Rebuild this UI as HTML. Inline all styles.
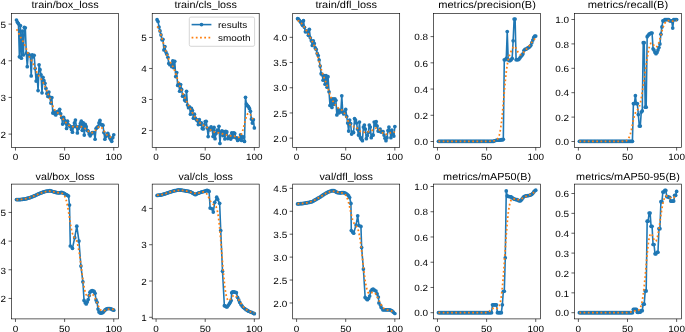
<!DOCTYPE html>
<html><head><meta charset="utf-8"><title>results</title>
<style>
html,body{margin:0;padding:0;background:#fff;}
body{width:685px;height:332px;overflow:hidden;}
svg{display:block;will-change:transform;}
text{font-family:"Liberation Sans",sans-serif;fill:#000000;text-rendering:geometricPrecision;}
.tk text,.lg{font-size:9.0px;}
.ti{font-size:10.2px;}
</style></head>
<body>
<svg width="685" height="332" viewBox="0 0 685 332">
<rect width="685" height="332" fill="#fff"/>
<defs>
<clipPath id="c0"><rect x="11.6" y="13.35" width="107" height="134.15"/></clipPath>
<clipPath id="c1"><rect x="152.2" y="13.35" width="107" height="134.15"/></clipPath>
<clipPath id="c2"><rect x="292.7" y="13.35" width="107" height="134.15"/></clipPath>
<clipPath id="c3"><rect x="433.6" y="13.35" width="107" height="134.15"/></clipPath>
<clipPath id="c4"><rect x="574.5" y="13.35" width="107" height="134.15"/></clipPath>
<clipPath id="c5"><rect x="11.6" y="184.1" width="107" height="134.8"/></clipPath>
<clipPath id="c6"><rect x="152.2" y="184.1" width="107" height="134.8"/></clipPath>
<clipPath id="c7"><rect x="292.7" y="184.1" width="107" height="134.8"/></clipPath>
<clipPath id="c8"><rect x="433.6" y="184.1" width="107" height="134.8"/></clipPath>
<clipPath id="c9"><rect x="574.5" y="184.1" width="107" height="134.8"/></clipPath>
</defs>
<g clip-path="url(#c0)">
<polyline points="16.46,20.01 17.45,22.22 18.43,23.69 19.41,56.78 20.39,25.53 21.38,58.25 22.36,31.04 23.34,54.94 24.32,27.37 25.31,27.73 26.29,53.11 27.27,66.71 28.25,53.84 29.24,54.94 30.22,56.05 31.20,75.90 32.18,54.94 33.17,56.78 34.15,55.31 35.13,68.55 36.11,81.05 37.10,75.17 38.08,90.61 39.06,64.87 40.04,69.65 41.03,74.80 42.01,92.82 42.99,77.37 43.98,80.68 44.96,83.26 45.94,88.41 46.92,93.55 47.91,96.49 48.89,92.08 49.87,97.23 50.85,103.11 51.84,97.60 52.82,113.04 53.80,111.20 54.78,113.78 55.77,114.88 56.75,111.94 57.73,113.04 58.71,111.20 59.70,109.36 60.68,113.78 61.66,117.45 62.64,124.07 63.63,117.45 64.61,120.03 65.59,122.97 66.57,128.48 67.56,121.13 68.54,124.81 69.52,125.91 70.50,126.65 71.49,129.59 72.47,132.16 73.45,126.65 74.43,122.97 75.42,120.03 76.40,126.65 77.38,132.90 78.36,128.48 79.35,126.65 80.33,123.70 81.31,121.13 82.29,130.32 83.28,122.97 84.26,135.10 85.24,124.44 86.22,126.65 87.21,130.32 88.19,131.06 89.17,134.00 90.16,135.84 91.14,134.00 92.12,132.53 93.10,132.53 94.09,132.53 95.07,139.15 96.05,128.48 97.03,127.38 98.02,126.65 99.00,122.97 99.98,120.40 100.96,124.44 101.95,124.81 102.93,125.18 103.91,132.53 104.89,139.15 105.88,136.57 106.86,134.74 107.84,133.26 108.82,135.84 109.81,138.04 110.79,139.52 111.77,141.35 112.75,137.68 113.74,134.74" fill="none" stroke="#1f77b4" stroke-width="1.59" stroke-linejoin="round" stroke-linecap="butt"/>
<g fill="#1f77b4"><circle cx="16.46" cy="20.01" r="1.85"/><circle cx="17.45" cy="22.22" r="1.85"/><circle cx="18.43" cy="23.69" r="1.85"/><circle cx="19.41" cy="56.78" r="1.85"/><circle cx="20.39" cy="25.53" r="1.85"/><circle cx="21.38" cy="58.25" r="1.85"/><circle cx="22.36" cy="31.04" r="1.85"/><circle cx="23.34" cy="54.94" r="1.85"/><circle cx="24.32" cy="27.37" r="1.85"/><circle cx="25.31" cy="27.73" r="1.85"/><circle cx="26.29" cy="53.11" r="1.85"/><circle cx="27.27" cy="66.71" r="1.85"/><circle cx="28.25" cy="53.84" r="1.85"/><circle cx="29.24" cy="54.94" r="1.85"/><circle cx="30.22" cy="56.05" r="1.85"/><circle cx="31.20" cy="75.90" r="1.85"/><circle cx="32.18" cy="54.94" r="1.85"/><circle cx="33.17" cy="56.78" r="1.85"/><circle cx="34.15" cy="55.31" r="1.85"/><circle cx="35.13" cy="68.55" r="1.85"/><circle cx="36.11" cy="81.05" r="1.85"/><circle cx="37.10" cy="75.17" r="1.85"/><circle cx="38.08" cy="90.61" r="1.85"/><circle cx="39.06" cy="64.87" r="1.85"/><circle cx="40.04" cy="69.65" r="1.85"/><circle cx="41.03" cy="74.80" r="1.85"/><circle cx="42.01" cy="92.82" r="1.85"/><circle cx="42.99" cy="77.37" r="1.85"/><circle cx="43.98" cy="80.68" r="1.85"/><circle cx="44.96" cy="83.26" r="1.85"/><circle cx="45.94" cy="88.41" r="1.85"/><circle cx="46.92" cy="93.55" r="1.85"/><circle cx="47.91" cy="96.49" r="1.85"/><circle cx="48.89" cy="92.08" r="1.85"/><circle cx="49.87" cy="97.23" r="1.85"/><circle cx="50.85" cy="103.11" r="1.85"/><circle cx="51.84" cy="97.60" r="1.85"/><circle cx="52.82" cy="113.04" r="1.85"/><circle cx="53.80" cy="111.20" r="1.85"/><circle cx="54.78" cy="113.78" r="1.85"/><circle cx="55.77" cy="114.88" r="1.85"/><circle cx="56.75" cy="111.94" r="1.85"/><circle cx="57.73" cy="113.04" r="1.85"/><circle cx="58.71" cy="111.20" r="1.85"/><circle cx="59.70" cy="109.36" r="1.85"/><circle cx="60.68" cy="113.78" r="1.85"/><circle cx="61.66" cy="117.45" r="1.85"/><circle cx="62.64" cy="124.07" r="1.85"/><circle cx="63.63" cy="117.45" r="1.85"/><circle cx="64.61" cy="120.03" r="1.85"/><circle cx="65.59" cy="122.97" r="1.85"/><circle cx="66.57" cy="128.48" r="1.85"/><circle cx="67.56" cy="121.13" r="1.85"/><circle cx="68.54" cy="124.81" r="1.85"/><circle cx="69.52" cy="125.91" r="1.85"/><circle cx="70.50" cy="126.65" r="1.85"/><circle cx="71.49" cy="129.59" r="1.85"/><circle cx="72.47" cy="132.16" r="1.85"/><circle cx="73.45" cy="126.65" r="1.85"/><circle cx="74.43" cy="122.97" r="1.85"/><circle cx="75.42" cy="120.03" r="1.85"/><circle cx="76.40" cy="126.65" r="1.85"/><circle cx="77.38" cy="132.90" r="1.85"/><circle cx="78.36" cy="128.48" r="1.85"/><circle cx="79.35" cy="126.65" r="1.85"/><circle cx="80.33" cy="123.70" r="1.85"/><circle cx="81.31" cy="121.13" r="1.85"/><circle cx="82.29" cy="130.32" r="1.85"/><circle cx="83.28" cy="122.97" r="1.85"/><circle cx="84.26" cy="135.10" r="1.85"/><circle cx="85.24" cy="124.44" r="1.85"/><circle cx="86.22" cy="126.65" r="1.85"/><circle cx="87.21" cy="130.32" r="1.85"/><circle cx="88.19" cy="131.06" r="1.85"/><circle cx="89.17" cy="134.00" r="1.85"/><circle cx="90.16" cy="135.84" r="1.85"/><circle cx="91.14" cy="134.00" r="1.85"/><circle cx="92.12" cy="132.53" r="1.85"/><circle cx="93.10" cy="132.53" r="1.85"/><circle cx="94.09" cy="132.53" r="1.85"/><circle cx="95.07" cy="139.15" r="1.85"/><circle cx="96.05" cy="128.48" r="1.85"/><circle cx="97.03" cy="127.38" r="1.85"/><circle cx="98.02" cy="126.65" r="1.85"/><circle cx="99.00" cy="122.97" r="1.85"/><circle cx="99.98" cy="120.40" r="1.85"/><circle cx="100.96" cy="124.44" r="1.85"/><circle cx="101.95" cy="124.81" r="1.85"/><circle cx="102.93" cy="125.18" r="1.85"/><circle cx="103.91" cy="132.53" r="1.85"/><circle cx="104.89" cy="139.15" r="1.85"/><circle cx="105.88" cy="136.57" r="1.85"/><circle cx="106.86" cy="134.74" r="1.85"/><circle cx="107.84" cy="133.26" r="1.85"/><circle cx="108.82" cy="135.84" r="1.85"/><circle cx="109.81" cy="138.04" r="1.85"/><circle cx="110.79" cy="139.52" r="1.85"/><circle cx="111.77" cy="141.35" r="1.85"/><circle cx="112.75" cy="137.68" r="1.85"/><circle cx="113.74" cy="134.74" r="1.85"/></g>
<polyline points="16.46,29.45 17.45,30.52 18.43,32.39 19.41,34.64 20.39,36.86 21.38,38.80 22.36,40.47 23.34,42.07 24.32,43.88 25.31,46.06 26.29,48.61 27.27,51.34 28.25,53.99 29.24,56.36 30.22,58.39 31.20,60.18 32.18,61.94 33.17,63.87 34.15,66.03 35.13,68.37 36.11,70.68 37.10,72.77 38.08,74.53 39.06,76.02 40.04,77.38 41.03,78.79 42.01,80.36 42.99,82.13 43.98,84.11 44.96,86.27 45.94,88.57 46.92,90.98 47.91,93.47 48.89,96.02 49.87,98.62 50.85,101.25 51.84,103.82 52.82,106.21 53.80,108.28 54.78,109.94 55.77,111.18 56.75,112.09 57.73,112.84 58.71,113.61 59.70,114.53 60.68,115.67 61.66,116.97 62.64,118.36 63.63,119.74 64.61,121.04 65.59,122.23 66.57,123.29 67.56,124.23 68.54,125.06 69.52,125.75 70.50,126.25 71.49,126.56 72.47,126.66 73.45,126.63 74.43,126.56 75.42,126.50 76.40,126.50 77.38,126.52 78.36,126.53 79.35,126.52 80.33,126.55 81.31,126.67 82.29,126.94 83.28,127.37 84.26,127.94 85.24,128.63 86.22,129.42 87.21,130.27 88.19,131.10 89.17,131.84 90.16,132.40 91.14,132.72 92.12,132.74 93.10,132.44 94.09,131.82 95.07,130.90 96.05,129.76 97.03,128.56 98.02,127.49 99.00,126.77 99.98,126.56 100.96,126.95 101.95,127.90 102.93,129.25 103.91,130.79 104.89,132.31 105.88,133.66 106.86,134.78 107.84,135.67 108.82,136.37 109.81,136.90 110.79,137.27 111.77,137.49 112.75,137.59 113.74,137.63" fill="none" stroke="#ff7f0e" stroke-width="1.75" stroke-dasharray="1.75 2.47" stroke-linecap="butt"/>
</g>
<rect x="11.6" y="13.35" width="107" height="134.15" fill="none" stroke="#000" stroke-width="0.63"/>
<g class="tk"><line x1="15.48" y1="147.50" x2="15.48" y2="150.55" stroke="#000" stroke-width="0.63"/><text x="15.48" y="160.21" text-anchor="middle" textLength="5.53" lengthAdjust="spacingAndGlyphs">0</text><line x1="64.61" y1="147.50" x2="64.61" y2="150.55" stroke="#000" stroke-width="0.63"/><text x="64.61" y="160.21" text-anchor="middle" textLength="11.07" lengthAdjust="spacingAndGlyphs">50</text><line x1="113.74" y1="147.50" x2="113.74" y2="150.55" stroke="#000" stroke-width="0.63"/><text x="113.74" y="160.21" text-anchor="middle" textLength="16.60" lengthAdjust="spacingAndGlyphs">100</text><line x1="11.60" y1="134.10" x2="8.55" y2="134.10" stroke="#000" stroke-width="0.63"/><text x="6.10" y="137.85" text-anchor="end" textLength="5.53" lengthAdjust="spacingAndGlyphs">2</text><line x1="11.60" y1="97.43" x2="8.55" y2="97.43" stroke="#000" stroke-width="0.63"/><text x="6.10" y="101.18" text-anchor="end" textLength="5.53" lengthAdjust="spacingAndGlyphs">3</text><line x1="11.60" y1="60.77" x2="8.55" y2="60.77" stroke="#000" stroke-width="0.63"/><text x="6.10" y="64.52" text-anchor="end" textLength="5.53" lengthAdjust="spacingAndGlyphs">4</text><line x1="11.60" y1="24.10" x2="8.55" y2="24.10" stroke="#000" stroke-width="0.63"/><text x="6.10" y="27.85" text-anchor="end" textLength="5.53" lengthAdjust="spacingAndGlyphs">5</text></g>
<text class="ti" x="65.10" y="7.65" text-anchor="middle" textLength="67.22" lengthAdjust="spacingAndGlyphs">train/box_loss</text>
<g clip-path="url(#c1)">
<polyline points="157.06,19.65 158.05,21.48 159.03,26.99 160.01,30.97 160.99,34.95 161.98,39.84 162.96,39.23 163.94,49.94 164.92,46.57 165.91,52.08 166.89,54.22 167.87,57.28 168.85,63.40 169.84,64.63 170.82,64.02 171.80,66.77 172.78,60.96 173.77,67.69 174.75,61.26 175.73,76.56 176.71,72.58 177.70,85.44 178.68,83.60 179.66,91.25 180.64,84.52 181.63,89.41 182.61,96.15 183.59,95.23 184.58,100.12 185.56,101.04 186.54,91.25 187.52,105.02 188.51,107.77 189.49,106.86 190.47,114.20 191.45,108.39 192.44,110.53 193.42,118.18 194.40,114.20 195.38,118.18 196.37,119.71 197.35,120.63 198.33,124.60 199.31,119.71 200.30,124.30 201.28,122.77 202.26,128.44 203.24,128.92 204.23,124.86 205.21,121.51 206.19,121.24 207.17,128.02 208.16,136.58 209.14,128.44 210.12,129.79 211.10,126.96 212.09,129.16 213.07,136.51 214.05,127.43 215.03,138.65 216.02,133.57 217.00,130.20 217.98,130.89 218.96,126.24 219.95,143.46 220.93,132.18 221.91,130.95 222.89,135.53 223.88,131.50 224.86,138.99 225.84,131.41 226.82,131.88 227.81,138.56 228.79,137.57 229.77,136.17 230.76,139.06 231.74,132.73 232.72,137.25 233.70,132.80 234.69,133.38 235.67,137.57 236.65,137.90 237.63,140.47 238.62,139.49 239.60,139.44 240.58,134.77 241.56,140.48 242.55,136.91 243.53,137.04 244.51,141.43 245.49,97.37 246.48,104.10 247.46,105.63 248.44,106.55 249.42,108.39 250.41,111.14 251.39,119.10 252.37,123.07 253.35,119.71 254.34,127.97" fill="none" stroke="#1f77b4" stroke-width="1.59" stroke-linejoin="round" stroke-linecap="butt"/>
<g fill="#1f77b4"><circle cx="157.06" cy="19.65" r="1.85"/><circle cx="158.05" cy="21.48" r="1.85"/><circle cx="159.03" cy="26.99" r="1.85"/><circle cx="160.01" cy="30.97" r="1.85"/><circle cx="160.99" cy="34.95" r="1.85"/><circle cx="161.98" cy="39.84" r="1.85"/><circle cx="162.96" cy="39.23" r="1.85"/><circle cx="163.94" cy="49.94" r="1.85"/><circle cx="164.92" cy="46.57" r="1.85"/><circle cx="165.91" cy="52.08" r="1.85"/><circle cx="166.89" cy="54.22" r="1.85"/><circle cx="167.87" cy="57.28" r="1.85"/><circle cx="168.85" cy="63.40" r="1.85"/><circle cx="169.84" cy="64.63" r="1.85"/><circle cx="170.82" cy="64.02" r="1.85"/><circle cx="171.80" cy="66.77" r="1.85"/><circle cx="172.78" cy="60.96" r="1.85"/><circle cx="173.77" cy="67.69" r="1.85"/><circle cx="174.75" cy="61.26" r="1.85"/><circle cx="175.73" cy="76.56" r="1.85"/><circle cx="176.71" cy="72.58" r="1.85"/><circle cx="177.70" cy="85.44" r="1.85"/><circle cx="178.68" cy="83.60" r="1.85"/><circle cx="179.66" cy="91.25" r="1.85"/><circle cx="180.64" cy="84.52" r="1.85"/><circle cx="181.63" cy="89.41" r="1.85"/><circle cx="182.61" cy="96.15" r="1.85"/><circle cx="183.59" cy="95.23" r="1.85"/><circle cx="184.58" cy="100.12" r="1.85"/><circle cx="185.56" cy="101.04" r="1.85"/><circle cx="186.54" cy="91.25" r="1.85"/><circle cx="187.52" cy="105.02" r="1.85"/><circle cx="188.51" cy="107.77" r="1.85"/><circle cx="189.49" cy="106.86" r="1.85"/><circle cx="190.47" cy="114.20" r="1.85"/><circle cx="191.45" cy="108.39" r="1.85"/><circle cx="192.44" cy="110.53" r="1.85"/><circle cx="193.42" cy="118.18" r="1.85"/><circle cx="194.40" cy="114.20" r="1.85"/><circle cx="195.38" cy="118.18" r="1.85"/><circle cx="196.37" cy="119.71" r="1.85"/><circle cx="197.35" cy="120.63" r="1.85"/><circle cx="198.33" cy="124.60" r="1.85"/><circle cx="199.31" cy="119.71" r="1.85"/><circle cx="200.30" cy="124.30" r="1.85"/><circle cx="201.28" cy="122.77" r="1.85"/><circle cx="202.26" cy="128.44" r="1.85"/><circle cx="203.24" cy="128.92" r="1.85"/><circle cx="204.23" cy="124.86" r="1.85"/><circle cx="205.21" cy="121.51" r="1.85"/><circle cx="206.19" cy="121.24" r="1.85"/><circle cx="207.17" cy="128.02" r="1.85"/><circle cx="208.16" cy="136.58" r="1.85"/><circle cx="209.14" cy="128.44" r="1.85"/><circle cx="210.12" cy="129.79" r="1.85"/><circle cx="211.10" cy="126.96" r="1.85"/><circle cx="212.09" cy="129.16" r="1.85"/><circle cx="213.07" cy="136.51" r="1.85"/><circle cx="214.05" cy="127.43" r="1.85"/><circle cx="215.03" cy="138.65" r="1.85"/><circle cx="216.02" cy="133.57" r="1.85"/><circle cx="217.00" cy="130.20" r="1.85"/><circle cx="217.98" cy="130.89" r="1.85"/><circle cx="218.96" cy="126.24" r="1.85"/><circle cx="219.95" cy="143.46" r="1.85"/><circle cx="220.93" cy="132.18" r="1.85"/><circle cx="221.91" cy="130.95" r="1.85"/><circle cx="222.89" cy="135.53" r="1.85"/><circle cx="223.88" cy="131.50" r="1.85"/><circle cx="224.86" cy="138.99" r="1.85"/><circle cx="225.84" cy="131.41" r="1.85"/><circle cx="226.82" cy="131.88" r="1.85"/><circle cx="227.81" cy="138.56" r="1.85"/><circle cx="228.79" cy="137.57" r="1.85"/><circle cx="229.77" cy="136.17" r="1.85"/><circle cx="230.76" cy="139.06" r="1.85"/><circle cx="231.74" cy="132.73" r="1.85"/><circle cx="232.72" cy="137.25" r="1.85"/><circle cx="233.70" cy="132.80" r="1.85"/><circle cx="234.69" cy="133.38" r="1.85"/><circle cx="235.67" cy="137.57" r="1.85"/><circle cx="236.65" cy="137.90" r="1.85"/><circle cx="237.63" cy="140.47" r="1.85"/><circle cx="238.62" cy="139.49" r="1.85"/><circle cx="239.60" cy="139.44" r="1.85"/><circle cx="240.58" cy="134.77" r="1.85"/><circle cx="241.56" cy="140.48" r="1.85"/><circle cx="242.55" cy="136.91" r="1.85"/><circle cx="243.53" cy="137.04" r="1.85"/><circle cx="244.51" cy="141.43" r="1.85"/><circle cx="245.49" cy="97.37" r="1.85"/><circle cx="246.48" cy="104.10" r="1.85"/><circle cx="247.46" cy="105.63" r="1.85"/><circle cx="248.44" cy="106.55" r="1.85"/><circle cx="249.42" cy="108.39" r="1.85"/><circle cx="250.41" cy="111.14" r="1.85"/><circle cx="251.39" cy="119.10" r="1.85"/><circle cx="252.37" cy="123.07" r="1.85"/><circle cx="253.35" cy="119.71" r="1.85"/><circle cx="254.34" cy="127.97" r="1.85"/></g>
<polyline points="157.06,26.50 158.05,27.51 159.03,29.41 160.01,32.00 160.99,35.05 161.98,38.34 162.96,41.71 163.94,45.04 164.92,48.27 165.91,51.35 166.89,54.24 167.87,56.87 168.85,59.21 169.84,61.24 170.82,63.02 171.80,64.69 172.78,66.45 173.77,68.47 174.75,70.87 175.73,73.63 176.71,76.65 177.70,79.76 178.68,82.80 179.66,85.65 180.64,88.29 181.63,90.72 182.61,92.96 183.59,95.07 184.58,97.09 185.56,99.08 186.54,101.09 187.52,103.13 188.51,105.19 189.49,107.21 190.47,109.16 191.45,111.00 192.44,112.74 193.42,114.40 194.40,115.98 195.38,117.48 196.37,118.88 197.35,120.17 198.33,121.34 199.31,122.38 200.30,123.28 201.28,124.03 202.26,124.65 203.24,125.16 204.23,125.66 205.21,126.20 206.19,126.83 207.17,127.55 208.16,128.31 209.14,129.03 210.12,129.70 211.10,130.32 212.09,130.88 213.07,131.39 214.05,131.82 215.03,132.14 216.02,132.38 217.00,132.56 217.98,132.75 218.96,132.96 219.95,133.20 220.93,133.46 221.91,133.70 222.89,133.94 223.88,134.19 224.86,134.47 225.84,134.79 226.82,135.14 227.81,135.46 228.79,135.70 229.77,135.85 230.76,135.89 231.74,135.90 232.72,135.95 233.70,136.11 234.69,136.40 235.67,136.80 236.65,137.20 237.63,137.46 238.62,137.43 239.60,136.95 240.58,135.84 241.56,133.93 242.55,131.15 243.53,127.58 244.51,123.56 245.49,119.59 246.48,116.26 247.46,114.02 248.44,113.10 249.42,113.42 250.41,114.68 251.39,116.43 252.37,118.21 253.35,119.64 254.34,120.43" fill="none" stroke="#ff7f0e" stroke-width="1.75" stroke-dasharray="1.75 2.47" stroke-linecap="butt"/>
</g>
<rect x="152.2" y="13.35" width="107" height="134.15" fill="none" stroke="#000" stroke-width="0.63"/>
<g class="tk"><line x1="156.08" y1="147.50" x2="156.08" y2="150.55" stroke="#000" stroke-width="0.63"/><text x="156.08" y="160.21" text-anchor="middle" textLength="5.53" lengthAdjust="spacingAndGlyphs">0</text><line x1="205.21" y1="147.50" x2="205.21" y2="150.55" stroke="#000" stroke-width="0.63"/><text x="205.21" y="160.21" text-anchor="middle" textLength="11.07" lengthAdjust="spacingAndGlyphs">50</text><line x1="254.34" y1="147.50" x2="254.34" y2="150.55" stroke="#000" stroke-width="0.63"/><text x="254.34" y="160.21" text-anchor="middle" textLength="16.60" lengthAdjust="spacingAndGlyphs">100</text><line x1="152.20" y1="130.45" x2="149.15" y2="130.45" stroke="#000" stroke-width="0.63"/><text x="146.70" y="134.20" text-anchor="end" textLength="5.53" lengthAdjust="spacingAndGlyphs">2</text><line x1="152.20" y1="99.47" x2="149.15" y2="99.47" stroke="#000" stroke-width="0.63"/><text x="146.70" y="103.22" text-anchor="end" textLength="5.53" lengthAdjust="spacingAndGlyphs">3</text><line x1="152.20" y1="68.48" x2="149.15" y2="68.48" stroke="#000" stroke-width="0.63"/><text x="146.70" y="72.23" text-anchor="end" textLength="5.53" lengthAdjust="spacingAndGlyphs">4</text><line x1="152.20" y1="37.50" x2="149.15" y2="37.50" stroke="#000" stroke-width="0.63"/><text x="146.70" y="41.25" text-anchor="end" textLength="5.53" lengthAdjust="spacingAndGlyphs">5</text></g>
<text class="ti" x="205.70" y="7.65" text-anchor="middle" textLength="62.47" lengthAdjust="spacingAndGlyphs">train/cls_loss</text>
<g clip-path="url(#c2)">
<polyline points="297.56,18.69 298.55,19.20 299.53,20.71 300.51,21.72 301.49,23.23 302.48,25.24 303.46,20.71 304.44,27.26 305.42,31.80 306.41,30.79 307.39,31.80 308.37,35.32 309.35,29.28 310.34,37.84 311.32,40.87 312.30,45.40 313.28,40.87 314.27,43.39 315.25,47.92 316.23,49.44 317.21,53.47 318.20,55.48 319.18,60.02 320.16,66.07 321.14,73.63 322.13,74.64 323.11,80.18 324.09,75.64 325.08,84.21 326.06,75.64 327.04,87.24 328.02,76.65 329.01,91.77 329.99,105.38 330.97,98.83 331.95,107.40 332.94,98.83 333.92,104.37 334.90,98.83 335.88,100.34 336.87,114.96 337.85,109.41 338.83,112.94 339.81,110.42 340.80,111.93 341.78,95.80 342.76,111.93 343.74,113.95 344.73,112.94 345.71,109.41 346.69,116.47 347.67,123.02 348.66,131.08 349.64,120.00 350.62,123.52 351.60,134.11 352.59,132.09 353.57,132.60 354.55,118.48 355.53,120.00 356.52,123.02 357.50,129.07 358.48,135.12 359.46,122.01 360.45,137.64 361.43,139.15 362.41,140.66 363.39,127.05 364.38,125.04 365.36,129.07 366.34,138.64 367.32,135.62 368.31,132.60 369.29,125.04 370.27,127.05 371.26,137.64 372.24,135.12 373.22,135.12 374.20,122.01 375.19,125.04 376.17,121.51 377.15,126.04 378.13,131.08 379.12,131.08 380.10,129.07 381.08,132.09 382.06,131.59 383.05,131.59 384.03,135.12 385.01,138.14 385.99,140.66 386.98,137.64 387.96,130.58 388.94,127.05 389.92,131.08 390.91,137.64 391.89,130.08 392.87,134.11 393.85,136.12 394.84,126.55" fill="none" stroke="#1f77b4" stroke-width="1.59" stroke-linejoin="round" stroke-linecap="butt"/>
<g fill="#1f77b4"><circle cx="297.56" cy="18.69" r="1.85"/><circle cx="298.55" cy="19.20" r="1.85"/><circle cx="299.53" cy="20.71" r="1.85"/><circle cx="300.51" cy="21.72" r="1.85"/><circle cx="301.49" cy="23.23" r="1.85"/><circle cx="302.48" cy="25.24" r="1.85"/><circle cx="303.46" cy="20.71" r="1.85"/><circle cx="304.44" cy="27.26" r="1.85"/><circle cx="305.42" cy="31.80" r="1.85"/><circle cx="306.41" cy="30.79" r="1.85"/><circle cx="307.39" cy="31.80" r="1.85"/><circle cx="308.37" cy="35.32" r="1.85"/><circle cx="309.35" cy="29.28" r="1.85"/><circle cx="310.34" cy="37.84" r="1.85"/><circle cx="311.32" cy="40.87" r="1.85"/><circle cx="312.30" cy="45.40" r="1.85"/><circle cx="313.28" cy="40.87" r="1.85"/><circle cx="314.27" cy="43.39" r="1.85"/><circle cx="315.25" cy="47.92" r="1.85"/><circle cx="316.23" cy="49.44" r="1.85"/><circle cx="317.21" cy="53.47" r="1.85"/><circle cx="318.20" cy="55.48" r="1.85"/><circle cx="319.18" cy="60.02" r="1.85"/><circle cx="320.16" cy="66.07" r="1.85"/><circle cx="321.14" cy="73.63" r="1.85"/><circle cx="322.13" cy="74.64" r="1.85"/><circle cx="323.11" cy="80.18" r="1.85"/><circle cx="324.09" cy="75.64" r="1.85"/><circle cx="325.08" cy="84.21" r="1.85"/><circle cx="326.06" cy="75.64" r="1.85"/><circle cx="327.04" cy="87.24" r="1.85"/><circle cx="328.02" cy="76.65" r="1.85"/><circle cx="329.01" cy="91.77" r="1.85"/><circle cx="329.99" cy="105.38" r="1.85"/><circle cx="330.97" cy="98.83" r="1.85"/><circle cx="331.95" cy="107.40" r="1.85"/><circle cx="332.94" cy="98.83" r="1.85"/><circle cx="333.92" cy="104.37" r="1.85"/><circle cx="334.90" cy="98.83" r="1.85"/><circle cx="335.88" cy="100.34" r="1.85"/><circle cx="336.87" cy="114.96" r="1.85"/><circle cx="337.85" cy="109.41" r="1.85"/><circle cx="338.83" cy="112.94" r="1.85"/><circle cx="339.81" cy="110.42" r="1.85"/><circle cx="340.80" cy="111.93" r="1.85"/><circle cx="341.78" cy="95.80" r="1.85"/><circle cx="342.76" cy="111.93" r="1.85"/><circle cx="343.74" cy="113.95" r="1.85"/><circle cx="344.73" cy="112.94" r="1.85"/><circle cx="345.71" cy="109.41" r="1.85"/><circle cx="346.69" cy="116.47" r="1.85"/><circle cx="347.67" cy="123.02" r="1.85"/><circle cx="348.66" cy="131.08" r="1.85"/><circle cx="349.64" cy="120.00" r="1.85"/><circle cx="350.62" cy="123.52" r="1.85"/><circle cx="351.60" cy="134.11" r="1.85"/><circle cx="352.59" cy="132.09" r="1.85"/><circle cx="353.57" cy="132.60" r="1.85"/><circle cx="354.55" cy="118.48" r="1.85"/><circle cx="355.53" cy="120.00" r="1.85"/><circle cx="356.52" cy="123.02" r="1.85"/><circle cx="357.50" cy="129.07" r="1.85"/><circle cx="358.48" cy="135.12" r="1.85"/><circle cx="359.46" cy="122.01" r="1.85"/><circle cx="360.45" cy="137.64" r="1.85"/><circle cx="361.43" cy="139.15" r="1.85"/><circle cx="362.41" cy="140.66" r="1.85"/><circle cx="363.39" cy="127.05" r="1.85"/><circle cx="364.38" cy="125.04" r="1.85"/><circle cx="365.36" cy="129.07" r="1.85"/><circle cx="366.34" cy="138.64" r="1.85"/><circle cx="367.32" cy="135.62" r="1.85"/><circle cx="368.31" cy="132.60" r="1.85"/><circle cx="369.29" cy="125.04" r="1.85"/><circle cx="370.27" cy="127.05" r="1.85"/><circle cx="371.26" cy="137.64" r="1.85"/><circle cx="372.24" cy="135.12" r="1.85"/><circle cx="373.22" cy="135.12" r="1.85"/><circle cx="374.20" cy="122.01" r="1.85"/><circle cx="375.19" cy="125.04" r="1.85"/><circle cx="376.17" cy="121.51" r="1.85"/><circle cx="377.15" cy="126.04" r="1.85"/><circle cx="378.13" cy="131.08" r="1.85"/><circle cx="379.12" cy="131.08" r="1.85"/><circle cx="380.10" cy="129.07" r="1.85"/><circle cx="381.08" cy="132.09" r="1.85"/><circle cx="382.06" cy="131.59" r="1.85"/><circle cx="383.05" cy="131.59" r="1.85"/><circle cx="384.03" cy="135.12" r="1.85"/><circle cx="385.01" cy="138.14" r="1.85"/><circle cx="385.99" cy="140.66" r="1.85"/><circle cx="386.98" cy="137.64" r="1.85"/><circle cx="387.96" cy="130.58" r="1.85"/><circle cx="388.94" cy="127.05" r="1.85"/><circle cx="389.92" cy="131.08" r="1.85"/><circle cx="390.91" cy="137.64" r="1.85"/><circle cx="391.89" cy="130.08" r="1.85"/><circle cx="392.87" cy="134.11" r="1.85"/><circle cx="393.85" cy="136.12" r="1.85"/><circle cx="394.84" cy="126.55" r="1.85"/></g>
<polyline points="297.56,20.60 298.55,20.89 299.53,21.46 300.51,22.27 301.49,23.29 302.48,24.50 303.46,25.86 304.44,27.34 305.42,28.89 306.41,30.50 307.39,32.15 308.37,33.86 309.35,35.65 310.34,37.54 311.32,39.51 312.30,41.58 313.28,43.76 314.27,46.10 315.25,48.67 316.23,51.54 317.21,54.72 318.20,58.18 319.18,61.82 320.16,65.48 321.14,68.98 322.13,72.20 323.11,75.09 324.09,77.70 325.08,80.18 326.06,82.73 327.04,85.47 328.02,88.43 329.01,91.51 329.99,94.48 330.97,97.15 331.95,99.41 332.94,101.26 333.92,102.83 334.90,104.23 335.88,105.54 336.87,106.72 337.85,107.70 338.83,108.43 339.81,108.97 340.80,109.44 341.78,110.03 342.76,110.92 343.74,112.18 344.73,113.84 345.71,115.82 346.69,117.98 347.67,120.18 348.66,122.23 349.64,123.97 350.62,125.30 351.60,126.14 352.59,126.55 353.57,126.67 354.55,126.72 355.53,126.94 356.52,127.48 357.50,128.37 358.48,129.48 359.46,130.61 360.45,131.54 361.43,132.16 362.41,132.43 363.39,132.43 364.38,132.30 365.36,132.14 366.34,132.00 367.32,131.87 368.31,131.72 369.29,131.52 370.27,131.23 371.26,130.80 372.24,130.21 373.22,129.51 374.20,128.80 375.19,128.28 376.17,128.07 377.15,128.25 378.13,128.78 379.12,129.56 380.10,130.48 381.08,131.45 382.06,132.41 383.05,133.28 384.03,133.95 385.01,134.34 385.99,134.41 386.98,134.19 387.96,133.79 388.94,133.34 389.92,132.95 390.91,132.65 391.89,132.43 392.87,132.25 393.85,132.11 394.84,132.03" fill="none" stroke="#ff7f0e" stroke-width="1.75" stroke-dasharray="1.75 2.47" stroke-linecap="butt"/>
</g>
<rect x="292.7" y="13.35" width="107" height="134.15" fill="none" stroke="#000" stroke-width="0.63"/>
<g class="tk"><line x1="296.58" y1="147.50" x2="296.58" y2="150.55" stroke="#000" stroke-width="0.63"/><text x="296.58" y="160.21" text-anchor="middle" textLength="5.53" lengthAdjust="spacingAndGlyphs">0</text><line x1="345.71" y1="147.50" x2="345.71" y2="150.55" stroke="#000" stroke-width="0.63"/><text x="345.71" y="160.21" text-anchor="middle" textLength="11.07" lengthAdjust="spacingAndGlyphs">50</text><line x1="394.84" y1="147.50" x2="394.84" y2="150.55" stroke="#000" stroke-width="0.63"/><text x="394.84" y="160.21" text-anchor="middle" textLength="16.60" lengthAdjust="spacingAndGlyphs">100</text><line x1="292.70" y1="138.14" x2="289.65" y2="138.14" stroke="#000" stroke-width="0.63"/><text x="287.20" y="141.89" text-anchor="end" textLength="13.83" lengthAdjust="spacingAndGlyphs">2.0</text><line x1="292.70" y1="112.94" x2="289.65" y2="112.94" stroke="#000" stroke-width="0.63"/><text x="287.20" y="116.69" text-anchor="end" textLength="13.83" lengthAdjust="spacingAndGlyphs">2.5</text><line x1="292.70" y1="87.74" x2="289.65" y2="87.74" stroke="#000" stroke-width="0.63"/><text x="287.20" y="91.49" text-anchor="end" textLength="13.83" lengthAdjust="spacingAndGlyphs">3.0</text><line x1="292.70" y1="62.54" x2="289.65" y2="62.54" stroke="#000" stroke-width="0.63"/><text x="287.20" y="66.29" text-anchor="end" textLength="13.83" lengthAdjust="spacingAndGlyphs">3.5</text><line x1="292.70" y1="37.34" x2="289.65" y2="37.34" stroke="#000" stroke-width="0.63"/><text x="287.20" y="41.09" text-anchor="end" textLength="13.83" lengthAdjust="spacingAndGlyphs">4.0</text></g>
<text class="ti" x="346.20" y="7.65" text-anchor="middle" textLength="61.65" lengthAdjust="spacingAndGlyphs">train/dfl_loss</text>
<g clip-path="url(#c3)">
<polyline points="438.46,141.30 439.45,141.30 440.43,141.30 441.41,141.30 442.39,141.30 443.38,141.30 444.36,141.30 445.34,141.30 446.32,141.30 447.31,141.30 448.29,141.30 449.27,141.30 450.25,141.30 451.24,141.30 452.22,141.30 453.20,141.30 454.18,141.30 455.17,141.30 456.15,141.30 457.13,141.30 458.11,141.30 459.10,141.30 460.08,141.30 461.06,141.30 462.04,141.30 463.03,141.30 464.01,141.30 464.99,141.30 465.98,141.30 466.96,141.30 467.94,141.30 468.92,141.30 469.91,141.30 470.89,141.30 471.87,141.30 472.85,141.30 473.84,141.30 474.82,141.30 475.80,141.30 476.78,141.30 477.77,141.30 478.75,141.30 479.73,141.30 480.71,141.30 481.70,141.30 482.68,141.30 483.66,141.30 484.64,141.30 485.63,141.30 486.61,141.30 487.59,141.30 488.57,141.30 489.56,141.30 490.54,141.30 491.52,141.30 492.50,141.30 493.49,141.30 494.47,140.77 495.45,140.51 496.43,140.25 497.42,139.99 498.40,140.12 499.38,140.25 500.36,139.99 501.35,139.72 502.33,139.99 503.31,139.33 504.29,59.77 505.28,59.77 506.26,58.46 507.24,31.50 508.22,59.77 509.21,60.56 510.19,60.56 511.17,59.77 512.16,58.46 513.14,40.83 514.12,19.00 515.10,19.00 516.09,59.77 517.07,59.77 518.05,59.77 519.03,59.11 520.02,57.80 521.00,56.48 521.98,55.17 522.96,53.85 523.95,50.57 524.93,49.25 525.91,49.25 526.89,48.59 527.88,47.94 528.86,47.28 529.84,46.62 530.82,45.30 531.81,42.68 532.79,40.04 533.77,37.42 534.75,36.10 535.74,36.10" fill="none" stroke="#1f77b4" stroke-width="1.59" stroke-linejoin="round" stroke-linecap="butt"/>
<g fill="#1f77b4"><circle cx="438.46" cy="141.30" r="1.85"/><circle cx="439.45" cy="141.30" r="1.85"/><circle cx="440.43" cy="141.30" r="1.85"/><circle cx="441.41" cy="141.30" r="1.85"/><circle cx="442.39" cy="141.30" r="1.85"/><circle cx="443.38" cy="141.30" r="1.85"/><circle cx="444.36" cy="141.30" r="1.85"/><circle cx="445.34" cy="141.30" r="1.85"/><circle cx="446.32" cy="141.30" r="1.85"/><circle cx="447.31" cy="141.30" r="1.85"/><circle cx="448.29" cy="141.30" r="1.85"/><circle cx="449.27" cy="141.30" r="1.85"/><circle cx="450.25" cy="141.30" r="1.85"/><circle cx="451.24" cy="141.30" r="1.85"/><circle cx="452.22" cy="141.30" r="1.85"/><circle cx="453.20" cy="141.30" r="1.85"/><circle cx="454.18" cy="141.30" r="1.85"/><circle cx="455.17" cy="141.30" r="1.85"/><circle cx="456.15" cy="141.30" r="1.85"/><circle cx="457.13" cy="141.30" r="1.85"/><circle cx="458.11" cy="141.30" r="1.85"/><circle cx="459.10" cy="141.30" r="1.85"/><circle cx="460.08" cy="141.30" r="1.85"/><circle cx="461.06" cy="141.30" r="1.85"/><circle cx="462.04" cy="141.30" r="1.85"/><circle cx="463.03" cy="141.30" r="1.85"/><circle cx="464.01" cy="141.30" r="1.85"/><circle cx="464.99" cy="141.30" r="1.85"/><circle cx="465.98" cy="141.30" r="1.85"/><circle cx="466.96" cy="141.30" r="1.85"/><circle cx="467.94" cy="141.30" r="1.85"/><circle cx="468.92" cy="141.30" r="1.85"/><circle cx="469.91" cy="141.30" r="1.85"/><circle cx="470.89" cy="141.30" r="1.85"/><circle cx="471.87" cy="141.30" r="1.85"/><circle cx="472.85" cy="141.30" r="1.85"/><circle cx="473.84" cy="141.30" r="1.85"/><circle cx="474.82" cy="141.30" r="1.85"/><circle cx="475.80" cy="141.30" r="1.85"/><circle cx="476.78" cy="141.30" r="1.85"/><circle cx="477.77" cy="141.30" r="1.85"/><circle cx="478.75" cy="141.30" r="1.85"/><circle cx="479.73" cy="141.30" r="1.85"/><circle cx="480.71" cy="141.30" r="1.85"/><circle cx="481.70" cy="141.30" r="1.85"/><circle cx="482.68" cy="141.30" r="1.85"/><circle cx="483.66" cy="141.30" r="1.85"/><circle cx="484.64" cy="141.30" r="1.85"/><circle cx="485.63" cy="141.30" r="1.85"/><circle cx="486.61" cy="141.30" r="1.85"/><circle cx="487.59" cy="141.30" r="1.85"/><circle cx="488.57" cy="141.30" r="1.85"/><circle cx="489.56" cy="141.30" r="1.85"/><circle cx="490.54" cy="141.30" r="1.85"/><circle cx="491.52" cy="141.30" r="1.85"/><circle cx="492.50" cy="141.30" r="1.85"/><circle cx="493.49" cy="141.30" r="1.85"/><circle cx="494.47" cy="140.77" r="1.85"/><circle cx="495.45" cy="140.51" r="1.85"/><circle cx="496.43" cy="140.25" r="1.85"/><circle cx="497.42" cy="139.99" r="1.85"/><circle cx="498.40" cy="140.12" r="1.85"/><circle cx="499.38" cy="140.25" r="1.85"/><circle cx="500.36" cy="139.99" r="1.85"/><circle cx="501.35" cy="139.72" r="1.85"/><circle cx="502.33" cy="139.99" r="1.85"/><circle cx="503.31" cy="139.33" r="1.85"/><circle cx="504.29" cy="59.77" r="1.85"/><circle cx="505.28" cy="59.77" r="1.85"/><circle cx="506.26" cy="58.46" r="1.85"/><circle cx="507.24" cy="31.50" r="1.85"/><circle cx="508.22" cy="59.77" r="1.85"/><circle cx="509.21" cy="60.56" r="1.85"/><circle cx="510.19" cy="60.56" r="1.85"/><circle cx="511.17" cy="59.77" r="1.85"/><circle cx="512.16" cy="58.46" r="1.85"/><circle cx="513.14" cy="40.83" r="1.85"/><circle cx="514.12" cy="19.00" r="1.85"/><circle cx="515.10" cy="19.00" r="1.85"/><circle cx="516.09" cy="59.77" r="1.85"/><circle cx="517.07" cy="59.77" r="1.85"/><circle cx="518.05" cy="59.77" r="1.85"/><circle cx="519.03" cy="59.11" r="1.85"/><circle cx="520.02" cy="57.80" r="1.85"/><circle cx="521.00" cy="56.48" r="1.85"/><circle cx="521.98" cy="55.17" r="1.85"/><circle cx="522.96" cy="53.85" r="1.85"/><circle cx="523.95" cy="50.57" r="1.85"/><circle cx="524.93" cy="49.25" r="1.85"/><circle cx="525.91" cy="49.25" r="1.85"/><circle cx="526.89" cy="48.59" r="1.85"/><circle cx="527.88" cy="47.94" r="1.85"/><circle cx="528.86" cy="47.28" r="1.85"/><circle cx="529.84" cy="46.62" r="1.85"/><circle cx="530.82" cy="45.30" r="1.85"/><circle cx="531.81" cy="42.68" r="1.85"/><circle cx="532.79" cy="40.04" r="1.85"/><circle cx="533.77" cy="37.42" r="1.85"/><circle cx="534.75" cy="36.10" r="1.85"/><circle cx="535.74" cy="36.10" r="1.85"/></g>
<polyline points="438.46,141.30 439.45,141.30 440.43,141.30 441.41,141.30 442.39,141.30 443.38,141.30 444.36,141.30 445.34,141.30 446.32,141.30 447.31,141.30 448.29,141.30 449.27,141.30 450.25,141.30 451.24,141.30 452.22,141.30 453.20,141.30 454.18,141.30 455.17,141.30 456.15,141.30 457.13,141.30 458.11,141.30 459.10,141.30 460.08,141.30 461.06,141.30 462.04,141.30 463.03,141.30 464.01,141.30 464.99,141.30 465.98,141.30 466.96,141.30 467.94,141.30 468.92,141.30 469.91,141.30 470.89,141.30 471.87,141.30 472.85,141.30 473.84,141.30 474.82,141.30 475.80,141.30 476.78,141.30 477.77,141.30 478.75,141.30 479.73,141.30 480.71,141.30 481.70,141.30 482.68,141.30 483.66,141.30 484.64,141.30 485.63,141.30 486.61,141.30 487.59,141.29 488.57,141.28 489.56,141.25 490.54,141.21 491.52,141.14 492.50,141.04 493.49,140.90 494.47,140.71 495.45,140.43 496.43,139.97 497.42,139.12 498.40,137.52 499.38,134.69 500.36,130.07 501.35,123.26 502.33,114.22 503.31,103.47 504.29,92.01 505.28,81.10 506.26,71.82 507.24,64.73 508.22,59.73 509.21,56.24 510.19,53.55 511.17,51.14 512.16,48.92 513.14,47.21 514.12,46.41 515.10,46.79 516.09,48.22 517.07,50.25 518.05,52.27 519.03,53.80 520.02,54.58 521.00,54.59 521.98,54.02 522.96,53.07 523.95,51.95 524.93,50.80 525.91,49.69 526.89,48.61 527.88,47.52 528.86,46.37 529.84,45.12 530.82,43.75 531.81,42.34 532.79,40.98 533.77,39.79 534.75,38.92 535.74,38.45" fill="none" stroke="#ff7f0e" stroke-width="1.75" stroke-dasharray="1.75 2.47" stroke-linecap="butt"/>
</g>
<rect x="433.6" y="13.35" width="107" height="134.15" fill="none" stroke="#000" stroke-width="0.63"/>
<g class="tk"><line x1="437.48" y1="147.50" x2="437.48" y2="150.55" stroke="#000" stroke-width="0.63"/><text x="437.48" y="160.21" text-anchor="middle" textLength="5.53" lengthAdjust="spacingAndGlyphs">0</text><line x1="486.61" y1="147.50" x2="486.61" y2="150.55" stroke="#000" stroke-width="0.63"/><text x="486.61" y="160.21" text-anchor="middle" textLength="11.07" lengthAdjust="spacingAndGlyphs">50</text><line x1="535.74" y1="147.50" x2="535.74" y2="150.55" stroke="#000" stroke-width="0.63"/><text x="535.74" y="160.21" text-anchor="middle" textLength="16.60" lengthAdjust="spacingAndGlyphs">100</text><line x1="433.60" y1="141.50" x2="430.55" y2="141.50" stroke="#000" stroke-width="0.63"/><text x="428.10" y="145.25" text-anchor="end" textLength="13.83" lengthAdjust="spacingAndGlyphs">0.0</text><line x1="433.60" y1="115.28" x2="430.55" y2="115.28" stroke="#000" stroke-width="0.63"/><text x="428.10" y="119.03" text-anchor="end" textLength="13.83" lengthAdjust="spacingAndGlyphs">0.2</text><line x1="433.60" y1="89.05" x2="430.55" y2="89.05" stroke="#000" stroke-width="0.63"/><text x="428.10" y="92.80" text-anchor="end" textLength="13.83" lengthAdjust="spacingAndGlyphs">0.4</text><line x1="433.60" y1="62.83" x2="430.55" y2="62.83" stroke="#000" stroke-width="0.63"/><text x="428.10" y="66.58" text-anchor="end" textLength="13.83" lengthAdjust="spacingAndGlyphs">0.6</text><line x1="433.60" y1="36.60" x2="430.55" y2="36.60" stroke="#000" stroke-width="0.63"/><text x="428.10" y="40.35" text-anchor="end" textLength="13.83" lengthAdjust="spacingAndGlyphs">0.8</text></g>
<text class="ti" x="487.10" y="7.65" text-anchor="middle" textLength="97.67" lengthAdjust="spacingAndGlyphs">metrics/precision(B)</text>
<g clip-path="url(#c4)">
<polyline points="579.36,141.30 580.35,141.30 581.33,141.30 582.31,141.30 583.29,141.30 584.28,141.30 585.26,141.30 586.24,141.30 587.22,141.30 588.21,141.30 589.19,141.30 590.17,141.30 591.15,141.30 592.14,141.30 593.12,141.30 594.10,141.30 595.08,141.30 596.07,141.30 597.05,141.30 598.03,141.30 599.01,141.30 600.00,141.30 600.98,141.30 601.96,141.30 602.94,141.30 603.93,141.30 604.91,141.30 605.89,141.30 606.88,141.30 607.86,141.30 608.84,141.30 609.82,141.30 610.81,141.30 611.79,141.30 612.77,141.30 613.75,141.30 614.74,141.30 615.72,141.30 616.70,141.30 617.68,141.30 618.67,141.30 619.65,141.30 620.63,141.30 621.61,141.30 622.60,141.30 623.58,141.30 624.56,141.30 625.54,141.30 626.53,141.30 627.51,141.30 628.49,141.30 629.47,141.30 630.46,141.30 631.44,141.30 632.42,141.30 633.40,103.57 634.39,103.57 635.37,95.66 636.35,103.57 637.33,103.57 638.32,114.53 639.30,126.09 640.28,126.09 641.26,112.09 642.25,110.88 643.23,42.72 644.21,42.72 645.19,107.22 646.18,107.22 647.16,36.64 648.14,35.42 649.12,34.20 650.11,33.60 651.09,32.99 652.07,32.99 653.06,48.81 654.04,50.03 655.02,52.46 656.00,53.68 656.99,52.46 657.97,50.03 658.95,47.59 659.93,43.94 660.92,34.20 661.90,26.90 662.88,20.82 663.86,20.82 664.85,19.60 665.83,19.60 666.81,19.60 667.79,19.60 668.78,19.60 669.76,20.82 670.74,20.82 671.72,20.82 672.71,28.12 673.69,19.60 674.67,19.60 675.65,19.60 676.64,19.60" fill="none" stroke="#1f77b4" stroke-width="1.59" stroke-linejoin="round" stroke-linecap="butt"/>
<g fill="#1f77b4"><circle cx="579.36" cy="141.30" r="1.85"/><circle cx="580.35" cy="141.30" r="1.85"/><circle cx="581.33" cy="141.30" r="1.85"/><circle cx="582.31" cy="141.30" r="1.85"/><circle cx="583.29" cy="141.30" r="1.85"/><circle cx="584.28" cy="141.30" r="1.85"/><circle cx="585.26" cy="141.30" r="1.85"/><circle cx="586.24" cy="141.30" r="1.85"/><circle cx="587.22" cy="141.30" r="1.85"/><circle cx="588.21" cy="141.30" r="1.85"/><circle cx="589.19" cy="141.30" r="1.85"/><circle cx="590.17" cy="141.30" r="1.85"/><circle cx="591.15" cy="141.30" r="1.85"/><circle cx="592.14" cy="141.30" r="1.85"/><circle cx="593.12" cy="141.30" r="1.85"/><circle cx="594.10" cy="141.30" r="1.85"/><circle cx="595.08" cy="141.30" r="1.85"/><circle cx="596.07" cy="141.30" r="1.85"/><circle cx="597.05" cy="141.30" r="1.85"/><circle cx="598.03" cy="141.30" r="1.85"/><circle cx="599.01" cy="141.30" r="1.85"/><circle cx="600.00" cy="141.30" r="1.85"/><circle cx="600.98" cy="141.30" r="1.85"/><circle cx="601.96" cy="141.30" r="1.85"/><circle cx="602.94" cy="141.30" r="1.85"/><circle cx="603.93" cy="141.30" r="1.85"/><circle cx="604.91" cy="141.30" r="1.85"/><circle cx="605.89" cy="141.30" r="1.85"/><circle cx="606.88" cy="141.30" r="1.85"/><circle cx="607.86" cy="141.30" r="1.85"/><circle cx="608.84" cy="141.30" r="1.85"/><circle cx="609.82" cy="141.30" r="1.85"/><circle cx="610.81" cy="141.30" r="1.85"/><circle cx="611.79" cy="141.30" r="1.85"/><circle cx="612.77" cy="141.30" r="1.85"/><circle cx="613.75" cy="141.30" r="1.85"/><circle cx="614.74" cy="141.30" r="1.85"/><circle cx="615.72" cy="141.30" r="1.85"/><circle cx="616.70" cy="141.30" r="1.85"/><circle cx="617.68" cy="141.30" r="1.85"/><circle cx="618.67" cy="141.30" r="1.85"/><circle cx="619.65" cy="141.30" r="1.85"/><circle cx="620.63" cy="141.30" r="1.85"/><circle cx="621.61" cy="141.30" r="1.85"/><circle cx="622.60" cy="141.30" r="1.85"/><circle cx="623.58" cy="141.30" r="1.85"/><circle cx="624.56" cy="141.30" r="1.85"/><circle cx="625.54" cy="141.30" r="1.85"/><circle cx="626.53" cy="141.30" r="1.85"/><circle cx="627.51" cy="141.30" r="1.85"/><circle cx="628.49" cy="141.30" r="1.85"/><circle cx="629.47" cy="141.30" r="1.85"/><circle cx="630.46" cy="141.30" r="1.85"/><circle cx="631.44" cy="141.30" r="1.85"/><circle cx="632.42" cy="141.30" r="1.85"/><circle cx="633.40" cy="103.57" r="1.85"/><circle cx="634.39" cy="103.57" r="1.85"/><circle cx="635.37" cy="95.66" r="1.85"/><circle cx="636.35" cy="103.57" r="1.85"/><circle cx="637.33" cy="103.57" r="1.85"/><circle cx="638.32" cy="114.53" r="1.85"/><circle cx="639.30" cy="126.09" r="1.85"/><circle cx="640.28" cy="126.09" r="1.85"/><circle cx="641.26" cy="112.09" r="1.85"/><circle cx="642.25" cy="110.88" r="1.85"/><circle cx="643.23" cy="42.72" r="1.85"/><circle cx="644.21" cy="42.72" r="1.85"/><circle cx="645.19" cy="107.22" r="1.85"/><circle cx="646.18" cy="107.22" r="1.85"/><circle cx="647.16" cy="36.64" r="1.85"/><circle cx="648.14" cy="35.42" r="1.85"/><circle cx="649.12" cy="34.20" r="1.85"/><circle cx="650.11" cy="33.60" r="1.85"/><circle cx="651.09" cy="32.99" r="1.85"/><circle cx="652.07" cy="32.99" r="1.85"/><circle cx="653.06" cy="48.81" r="1.85"/><circle cx="654.04" cy="50.03" r="1.85"/><circle cx="655.02" cy="52.46" r="1.85"/><circle cx="656.00" cy="53.68" r="1.85"/><circle cx="656.99" cy="52.46" r="1.85"/><circle cx="657.97" cy="50.03" r="1.85"/><circle cx="658.95" cy="47.59" r="1.85"/><circle cx="659.93" cy="43.94" r="1.85"/><circle cx="660.92" cy="34.20" r="1.85"/><circle cx="661.90" cy="26.90" r="1.85"/><circle cx="662.88" cy="20.82" r="1.85"/><circle cx="663.86" cy="20.82" r="1.85"/><circle cx="664.85" cy="19.60" r="1.85"/><circle cx="665.83" cy="19.60" r="1.85"/><circle cx="666.81" cy="19.60" r="1.85"/><circle cx="667.79" cy="19.60" r="1.85"/><circle cx="668.78" cy="19.60" r="1.85"/><circle cx="669.76" cy="20.82" r="1.85"/><circle cx="670.74" cy="20.82" r="1.85"/><circle cx="671.72" cy="20.82" r="1.85"/><circle cx="672.71" cy="28.12" r="1.85"/><circle cx="673.69" cy="19.60" r="1.85"/><circle cx="674.67" cy="19.60" r="1.85"/><circle cx="675.65" cy="19.60" r="1.85"/><circle cx="676.64" cy="19.60" r="1.85"/></g>
<polyline points="579.36,141.30 580.35,141.30 581.33,141.30 582.31,141.30 583.29,141.30 584.28,141.30 585.26,141.30 586.24,141.30 587.22,141.30 588.21,141.30 589.19,141.30 590.17,141.30 591.15,141.30 592.14,141.30 593.12,141.30 594.10,141.30 595.08,141.30 596.07,141.30 597.05,141.30 598.03,141.30 599.01,141.30 600.00,141.30 600.98,141.30 601.96,141.30 602.94,141.30 603.93,141.30 604.91,141.30 605.89,141.30 606.88,141.30 607.86,141.30 608.84,141.30 609.82,141.30 610.81,141.30 611.79,141.30 612.77,141.30 613.75,141.30 614.74,141.30 615.72,141.30 616.70,141.30 617.68,141.30 618.67,141.30 619.65,141.30 620.63,141.30 621.61,141.30 622.60,141.29 623.58,141.27 624.56,141.22 625.54,141.07 626.53,140.73 627.51,140.04 628.49,138.76 629.47,136.64 630.46,133.53 631.44,129.48 632.42,124.79 633.40,120.05 634.39,115.92 635.37,112.87 636.35,110.98 637.33,109.86 638.32,108.73 639.30,106.74 640.28,103.33 641.26,98.39 642.25,92.28 643.23,85.53 644.21,78.61 645.19,71.73 646.18,64.95 647.16,58.42 648.14,52.50 649.12,47.72 650.11,44.52 651.09,43.06 652.07,43.12 653.06,44.18 654.04,45.59 655.02,46.74 656.00,47.15 656.99,46.56 657.97,44.89 658.95,42.24 659.93,38.86 660.92,35.11 661.90,31.37 662.88,27.99 663.86,25.21 664.85,23.15 665.83,21.79 666.81,21.02 667.79,20.70 668.78,20.68 669.76,20.83 670.74,21.02 671.72,21.13 672.71,21.13 673.69,21.00 674.67,20.79 675.65,20.59 676.64,20.46" fill="none" stroke="#ff7f0e" stroke-width="1.75" stroke-dasharray="1.75 2.47" stroke-linecap="butt"/>
</g>
<rect x="574.5" y="13.35" width="107" height="134.15" fill="none" stroke="#000" stroke-width="0.63"/>
<g class="tk"><line x1="578.38" y1="147.50" x2="578.38" y2="150.55" stroke="#000" stroke-width="0.63"/><text x="578.38" y="160.21" text-anchor="middle" textLength="5.53" lengthAdjust="spacingAndGlyphs">0</text><line x1="627.51" y1="147.50" x2="627.51" y2="150.55" stroke="#000" stroke-width="0.63"/><text x="627.51" y="160.21" text-anchor="middle" textLength="11.07" lengthAdjust="spacingAndGlyphs">50</text><line x1="676.64" y1="147.50" x2="676.64" y2="150.55" stroke="#000" stroke-width="0.63"/><text x="676.64" y="160.21" text-anchor="middle" textLength="16.60" lengthAdjust="spacingAndGlyphs">100</text><line x1="574.50" y1="141.50" x2="571.45" y2="141.50" stroke="#000" stroke-width="0.63"/><text x="569.00" y="145.25" text-anchor="end" textLength="13.83" lengthAdjust="spacingAndGlyphs">0.0</text><line x1="574.50" y1="117.10" x2="571.45" y2="117.10" stroke="#000" stroke-width="0.63"/><text x="569.00" y="120.85" text-anchor="end" textLength="13.83" lengthAdjust="spacingAndGlyphs">0.2</text><line x1="574.50" y1="92.70" x2="571.45" y2="92.70" stroke="#000" stroke-width="0.63"/><text x="569.00" y="96.45" text-anchor="end" textLength="13.83" lengthAdjust="spacingAndGlyphs">0.4</text><line x1="574.50" y1="68.30" x2="571.45" y2="68.30" stroke="#000" stroke-width="0.63"/><text x="569.00" y="72.05" text-anchor="end" textLength="13.83" lengthAdjust="spacingAndGlyphs">0.6</text><line x1="574.50" y1="43.90" x2="571.45" y2="43.90" stroke="#000" stroke-width="0.63"/><text x="569.00" y="47.65" text-anchor="end" textLength="13.83" lengthAdjust="spacingAndGlyphs">0.8</text><line x1="574.50" y1="19.50" x2="571.45" y2="19.50" stroke="#000" stroke-width="0.63"/><text x="569.00" y="23.25" text-anchor="end" textLength="13.83" lengthAdjust="spacingAndGlyphs">1.0</text></g>
<text class="ti" x="628.00" y="7.65" text-anchor="middle" textLength="80.33" lengthAdjust="spacingAndGlyphs">metrics/recall(B)</text>
<g clip-path="url(#c5)">
<polyline points="16.46,199.55 17.45,199.55 18.43,199.55 19.41,199.55 20.39,199.55 21.38,199.44 22.36,199.32 23.34,199.21 24.32,199.09 25.31,198.98 26.29,198.69 27.27,198.40 28.25,198.12 29.24,197.83 30.22,197.54 31.20,197.14 32.18,196.74 33.17,196.34 34.15,195.94 35.13,195.54 36.11,195.08 37.10,194.62 38.08,194.16 39.06,193.70 40.04,193.24 41.03,192.90 42.01,192.56 42.99,192.21 43.98,191.87 44.96,191.52 45.94,191.35 46.92,191.18 47.91,191.01 48.89,190.84 49.87,190.66 50.85,190.95 51.84,191.24 52.82,191.52 53.80,191.81 54.78,192.10 55.77,192.38 56.75,192.57 57.73,192.77 58.71,192.96 59.70,192.77 60.68,192.57 61.66,192.38 62.64,192.77 63.63,193.15 64.61,193.53 65.59,194.25 66.57,194.96 67.56,195.25 68.54,196.11 69.52,205.00 70.31,245.99 72.47,248.28 74.73,237.68 76.79,226.21 78.95,241.12 80.92,266.06 82.88,281.82 84.06,300.46 85.24,302.75 86.22,303.90 87.21,301.89 88.19,299.60 89.17,295.58 89.96,292.14 91.14,291.00 92.12,290.71 93.10,291.00 94.09,291.28 95.07,293.29 96.05,299.88 97.03,302.18 98.02,309.06 99.00,311.92 99.98,312.78 100.96,313.07 101.95,312.78 102.93,312.50 103.91,311.35 104.89,310.20 105.88,309.34 106.86,308.77 107.84,308.48 108.82,308.48 109.81,308.48 110.79,308.77 111.77,309.34 112.75,309.63 113.74,310.20" fill="none" stroke="#1f77b4" stroke-width="1.59" stroke-linejoin="round" stroke-linecap="butt"/>
<g fill="#1f77b4"><circle cx="16.46" cy="199.55" r="1.85"/><circle cx="17.45" cy="199.55" r="1.85"/><circle cx="18.43" cy="199.55" r="1.85"/><circle cx="19.41" cy="199.55" r="1.85"/><circle cx="20.39" cy="199.55" r="1.85"/><circle cx="21.38" cy="199.44" r="1.85"/><circle cx="22.36" cy="199.32" r="1.85"/><circle cx="23.34" cy="199.21" r="1.85"/><circle cx="24.32" cy="199.09" r="1.85"/><circle cx="25.31" cy="198.98" r="1.85"/><circle cx="26.29" cy="198.69" r="1.85"/><circle cx="27.27" cy="198.40" r="1.85"/><circle cx="28.25" cy="198.12" r="1.85"/><circle cx="29.24" cy="197.83" r="1.85"/><circle cx="30.22" cy="197.54" r="1.85"/><circle cx="31.20" cy="197.14" r="1.85"/><circle cx="32.18" cy="196.74" r="1.85"/><circle cx="33.17" cy="196.34" r="1.85"/><circle cx="34.15" cy="195.94" r="1.85"/><circle cx="35.13" cy="195.54" r="1.85"/><circle cx="36.11" cy="195.08" r="1.85"/><circle cx="37.10" cy="194.62" r="1.85"/><circle cx="38.08" cy="194.16" r="1.85"/><circle cx="39.06" cy="193.70" r="1.85"/><circle cx="40.04" cy="193.24" r="1.85"/><circle cx="41.03" cy="192.90" r="1.85"/><circle cx="42.01" cy="192.56" r="1.85"/><circle cx="42.99" cy="192.21" r="1.85"/><circle cx="43.98" cy="191.87" r="1.85"/><circle cx="44.96" cy="191.52" r="1.85"/><circle cx="45.94" cy="191.35" r="1.85"/><circle cx="46.92" cy="191.18" r="1.85"/><circle cx="47.91" cy="191.01" r="1.85"/><circle cx="48.89" cy="190.84" r="1.85"/><circle cx="49.87" cy="190.66" r="1.85"/><circle cx="50.85" cy="190.95" r="1.85"/><circle cx="51.84" cy="191.24" r="1.85"/><circle cx="52.82" cy="191.52" r="1.85"/><circle cx="53.80" cy="191.81" r="1.85"/><circle cx="54.78" cy="192.10" r="1.85"/><circle cx="55.77" cy="192.38" r="1.85"/><circle cx="56.75" cy="192.57" r="1.85"/><circle cx="57.73" cy="192.77" r="1.85"/><circle cx="58.71" cy="192.96" r="1.85"/><circle cx="59.70" cy="192.77" r="1.85"/><circle cx="60.68" cy="192.57" r="1.85"/><circle cx="61.66" cy="192.38" r="1.85"/><circle cx="62.64" cy="192.77" r="1.85"/><circle cx="63.63" cy="193.15" r="1.85"/><circle cx="64.61" cy="193.53" r="1.85"/><circle cx="65.59" cy="194.25" r="1.85"/><circle cx="66.57" cy="194.96" r="1.85"/><circle cx="67.56" cy="195.25" r="1.85"/><circle cx="68.54" cy="196.11" r="1.85"/><circle cx="69.52" cy="205.00" r="1.85"/><circle cx="70.31" cy="245.99" r="1.85"/><circle cx="72.47" cy="248.28" r="1.85"/><circle cx="74.73" cy="237.68" r="1.85"/><circle cx="76.79" cy="226.21" r="1.85"/><circle cx="78.95" cy="241.12" r="1.85"/><circle cx="80.92" cy="266.06" r="1.85"/><circle cx="82.88" cy="281.82" r="1.85"/><circle cx="84.06" cy="300.46" r="1.85"/><circle cx="85.24" cy="302.75" r="1.85"/><circle cx="86.22" cy="303.90" r="1.85"/><circle cx="87.21" cy="301.89" r="1.85"/><circle cx="88.19" cy="299.60" r="1.85"/><circle cx="89.17" cy="295.58" r="1.85"/><circle cx="89.96" cy="292.14" r="1.85"/><circle cx="91.14" cy="291.00" r="1.85"/><circle cx="92.12" cy="290.71" r="1.85"/><circle cx="93.10" cy="291.00" r="1.85"/><circle cx="94.09" cy="291.28" r="1.85"/><circle cx="95.07" cy="293.29" r="1.85"/><circle cx="96.05" cy="299.88" r="1.85"/><circle cx="97.03" cy="302.18" r="1.85"/><circle cx="98.02" cy="309.06" r="1.85"/><circle cx="99.00" cy="311.92" r="1.85"/><circle cx="99.98" cy="312.78" r="1.85"/><circle cx="100.96" cy="313.07" r="1.85"/><circle cx="101.95" cy="312.78" r="1.85"/><circle cx="102.93" cy="312.50" r="1.85"/><circle cx="103.91" cy="311.35" r="1.85"/><circle cx="104.89" cy="310.20" r="1.85"/><circle cx="105.88" cy="309.34" r="1.85"/><circle cx="106.86" cy="308.77" r="1.85"/><circle cx="107.84" cy="308.48" r="1.85"/><circle cx="108.82" cy="308.48" r="1.85"/><circle cx="109.81" cy="308.48" r="1.85"/><circle cx="110.79" cy="308.77" r="1.85"/><circle cx="111.77" cy="309.34" r="1.85"/><circle cx="112.75" cy="309.63" r="1.85"/><circle cx="113.74" cy="310.20" r="1.85"/></g>
<polyline points="16.46,199.53 17.45,199.52 18.43,199.50 19.41,199.46 20.39,199.40 21.38,199.33 22.36,199.23 23.34,199.10 24.32,198.95 25.31,198.76 26.29,198.54 27.27,198.30 28.25,198.02 29.24,197.72 30.22,197.39 31.20,197.04 32.18,196.67 33.17,196.29 34.15,195.88 35.13,195.47 36.11,195.05 37.10,194.62 38.08,194.20 39.06,193.79 40.04,193.39 41.03,193.01 42.01,192.65 42.99,192.32 43.98,192.02 44.96,191.76 45.94,191.54 46.92,191.37 47.91,191.25 48.89,191.20 49.87,191.21 50.85,191.29 51.84,191.43 52.82,191.60 53.80,191.80 54.78,192.01 55.77,192.20 56.75,192.37 57.73,192.51 58.71,192.63 59.70,192.75 60.68,192.91 61.66,193.18 62.64,193.64 63.63,194.45 64.61,195.84 65.59,198.08 66.57,201.43 67.56,206.01 68.54,211.69 69.52,217.99 70.50,224.18 71.49,229.53 72.47,233.53 73.45,236.09 74.43,237.62 75.42,238.83 76.40,240.51 77.38,243.32 78.36,247.62 79.35,253.38 80.33,260.30 81.31,267.82 82.29,275.33 83.28,282.21 84.26,287.94 85.24,292.21 86.22,294.92 87.21,296.19 88.19,296.35 89.17,295.83 90.16,295.06 91.14,294.46 92.12,294.33 93.10,294.84 94.09,296.06 95.07,297.92 96.05,300.24 97.03,302.77 98.02,305.24 99.00,307.41 99.98,309.09 100.96,310.22 101.95,310.80 102.93,310.95 103.91,310.77 104.89,310.42 105.88,310.00 106.86,309.62 107.84,309.34 108.82,309.17 109.81,309.12 110.79,309.17 111.77,309.26 112.75,309.35 113.74,309.41" fill="none" stroke="#ff7f0e" stroke-width="1.75" stroke-dasharray="1.75 2.47" stroke-linecap="butt"/>
</g>
<rect x="11.6" y="184.1" width="107" height="134.8" fill="none" stroke="#000" stroke-width="0.63"/>
<g class="tk"><line x1="15.48" y1="318.90" x2="15.48" y2="321.95" stroke="#000" stroke-width="0.63"/><text x="15.48" y="331.61" text-anchor="middle" textLength="5.53" lengthAdjust="spacingAndGlyphs">0</text><line x1="64.61" y1="318.90" x2="64.61" y2="321.95" stroke="#000" stroke-width="0.63"/><text x="64.61" y="331.61" text-anchor="middle" textLength="11.07" lengthAdjust="spacingAndGlyphs">50</text><line x1="113.74" y1="318.90" x2="113.74" y2="321.95" stroke="#000" stroke-width="0.63"/><text x="113.74" y="331.61" text-anchor="middle" textLength="16.60" lengthAdjust="spacingAndGlyphs">100</text><line x1="11.60" y1="298.45" x2="8.55" y2="298.45" stroke="#000" stroke-width="0.63"/><text x="6.10" y="302.20" text-anchor="end" textLength="5.53" lengthAdjust="spacingAndGlyphs">2</text><line x1="11.60" y1="269.78" x2="8.55" y2="269.78" stroke="#000" stroke-width="0.63"/><text x="6.10" y="273.53" text-anchor="end" textLength="5.53" lengthAdjust="spacingAndGlyphs">3</text><line x1="11.60" y1="241.12" x2="8.55" y2="241.12" stroke="#000" stroke-width="0.63"/><text x="6.10" y="244.87" text-anchor="end" textLength="5.53" lengthAdjust="spacingAndGlyphs">4</text><line x1="11.60" y1="212.45" x2="8.55" y2="212.45" stroke="#000" stroke-width="0.63"/><text x="6.10" y="216.20" text-anchor="end" textLength="5.53" lengthAdjust="spacingAndGlyphs">5</text></g>
<text class="ti" x="65.10" y="179.60" text-anchor="middle" textLength="59.03" lengthAdjust="spacingAndGlyphs">val/box_loss</text>
<g clip-path="url(#c6)">
<polyline points="157.06,195.39 158.05,195.30 159.03,195.21 160.01,195.12 160.99,195.03 161.98,194.73 162.96,194.44 163.94,194.15 164.92,193.86 165.91,193.57 166.89,193.21 167.87,192.85 168.85,192.49 169.84,192.12 170.82,191.83 171.80,191.54 172.78,191.25 173.77,190.96 174.75,190.67 175.73,190.49 176.71,190.31 177.70,190.13 178.68,189.95 179.66,190.04 180.64,190.13 181.63,190.22 182.61,190.31 183.59,190.49 184.58,190.67 185.56,190.85 186.54,191.03 187.52,191.22 188.51,191.40 189.49,191.58 190.47,191.76 191.45,192.36 192.44,192.97 193.42,193.57 194.40,194.12 195.38,194.66 196.37,194.12 197.35,193.57 198.33,193.21 199.31,192.85 200.30,192.49 201.28,192.12 202.26,191.85 203.24,191.58 204.23,191.31 205.21,191.03 206.19,190.67 207.17,190.31 208.16,190.85 209.14,191.40 210.12,208.09 212.09,208.81 213.27,212.08 214.74,202.28 216.70,197.20 217.69,199.38 219.65,203.37 220.73,230.58 222.50,271.22 224.37,305.69 225.35,306.05 226.33,306.78 227.22,306.78 228.30,305.33 229.48,303.51 230.36,302.06 231.15,300.61 231.74,292.63 232.72,291.90 234.10,291.90 235.18,292.26 236.36,292.63 237.53,297.34 238.71,299.88 239.79,302.42 240.97,304.60 242.15,306.05 243.33,307.50 244.71,308.59 246.08,309.68 247.46,310.41 248.44,311.13 249.62,311.49 250.90,312.22 252.17,312.58 253.55,313.31 254.34,313.67" fill="none" stroke="#1f77b4" stroke-width="1.59" stroke-linejoin="round" stroke-linecap="butt"/>
<g fill="#1f77b4"><circle cx="157.06" cy="195.39" r="1.85"/><circle cx="158.05" cy="195.30" r="1.85"/><circle cx="159.03" cy="195.21" r="1.85"/><circle cx="160.01" cy="195.12" r="1.85"/><circle cx="160.99" cy="195.03" r="1.85"/><circle cx="161.98" cy="194.73" r="1.85"/><circle cx="162.96" cy="194.44" r="1.85"/><circle cx="163.94" cy="194.15" r="1.85"/><circle cx="164.92" cy="193.86" r="1.85"/><circle cx="165.91" cy="193.57" r="1.85"/><circle cx="166.89" cy="193.21" r="1.85"/><circle cx="167.87" cy="192.85" r="1.85"/><circle cx="168.85" cy="192.49" r="1.85"/><circle cx="169.84" cy="192.12" r="1.85"/><circle cx="170.82" cy="191.83" r="1.85"/><circle cx="171.80" cy="191.54" r="1.85"/><circle cx="172.78" cy="191.25" r="1.85"/><circle cx="173.77" cy="190.96" r="1.85"/><circle cx="174.75" cy="190.67" r="1.85"/><circle cx="175.73" cy="190.49" r="1.85"/><circle cx="176.71" cy="190.31" r="1.85"/><circle cx="177.70" cy="190.13" r="1.85"/><circle cx="178.68" cy="189.95" r="1.85"/><circle cx="179.66" cy="190.04" r="1.85"/><circle cx="180.64" cy="190.13" r="1.85"/><circle cx="181.63" cy="190.22" r="1.85"/><circle cx="182.61" cy="190.31" r="1.85"/><circle cx="183.59" cy="190.49" r="1.85"/><circle cx="184.58" cy="190.67" r="1.85"/><circle cx="185.56" cy="190.85" r="1.85"/><circle cx="186.54" cy="191.03" r="1.85"/><circle cx="187.52" cy="191.22" r="1.85"/><circle cx="188.51" cy="191.40" r="1.85"/><circle cx="189.49" cy="191.58" r="1.85"/><circle cx="190.47" cy="191.76" r="1.85"/><circle cx="191.45" cy="192.36" r="1.85"/><circle cx="192.44" cy="192.97" r="1.85"/><circle cx="193.42" cy="193.57" r="1.85"/><circle cx="194.40" cy="194.12" r="1.85"/><circle cx="195.38" cy="194.66" r="1.85"/><circle cx="196.37" cy="194.12" r="1.85"/><circle cx="197.35" cy="193.57" r="1.85"/><circle cx="198.33" cy="193.21" r="1.85"/><circle cx="199.31" cy="192.85" r="1.85"/><circle cx="200.30" cy="192.49" r="1.85"/><circle cx="201.28" cy="192.12" r="1.85"/><circle cx="202.26" cy="191.85" r="1.85"/><circle cx="203.24" cy="191.58" r="1.85"/><circle cx="204.23" cy="191.31" r="1.85"/><circle cx="205.21" cy="191.03" r="1.85"/><circle cx="206.19" cy="190.67" r="1.85"/><circle cx="207.17" cy="190.31" r="1.85"/><circle cx="208.16" cy="190.85" r="1.85"/><circle cx="209.14" cy="191.40" r="1.85"/><circle cx="210.12" cy="208.09" r="1.85"/><circle cx="212.09" cy="208.81" r="1.85"/><circle cx="213.27" cy="212.08" r="1.85"/><circle cx="214.74" cy="202.28" r="1.85"/><circle cx="216.70" cy="197.20" r="1.85"/><circle cx="217.69" cy="199.38" r="1.85"/><circle cx="219.65" cy="203.37" r="1.85"/><circle cx="220.73" cy="230.58" r="1.85"/><circle cx="222.50" cy="271.22" r="1.85"/><circle cx="224.37" cy="305.69" r="1.85"/><circle cx="225.35" cy="306.05" r="1.85"/><circle cx="226.33" cy="306.78" r="1.85"/><circle cx="227.22" cy="306.78" r="1.85"/><circle cx="228.30" cy="305.33" r="1.85"/><circle cx="229.48" cy="303.51" r="1.85"/><circle cx="230.36" cy="302.06" r="1.85"/><circle cx="231.15" cy="300.61" r="1.85"/><circle cx="231.74" cy="292.63" r="1.85"/><circle cx="232.72" cy="291.90" r="1.85"/><circle cx="234.10" cy="291.90" r="1.85"/><circle cx="235.18" cy="292.26" r="1.85"/><circle cx="236.36" cy="292.63" r="1.85"/><circle cx="237.53" cy="297.34" r="1.85"/><circle cx="238.71" cy="299.88" r="1.85"/><circle cx="239.79" cy="302.42" r="1.85"/><circle cx="240.97" cy="304.60" r="1.85"/><circle cx="242.15" cy="306.05" r="1.85"/><circle cx="243.33" cy="307.50" r="1.85"/><circle cx="244.71" cy="308.59" r="1.85"/><circle cx="246.08" cy="309.68" r="1.85"/><circle cx="247.46" cy="310.41" r="1.85"/><circle cx="248.44" cy="311.13" r="1.85"/><circle cx="249.62" cy="311.49" r="1.85"/><circle cx="250.90" cy="312.22" r="1.85"/><circle cx="252.17" cy="312.58" r="1.85"/><circle cx="253.55" cy="313.31" r="1.85"/><circle cx="254.34" cy="313.67" r="1.85"/></g>
<polyline points="157.06,195.18 158.05,195.14 159.03,195.05 160.01,194.93 160.99,194.77 161.98,194.57 162.96,194.34 163.94,194.07 164.92,193.79 165.91,193.49 166.89,193.17 167.87,192.85 168.85,192.52 169.84,192.21 170.82,191.90 171.80,191.60 172.78,191.32 173.77,191.07 174.75,190.84 175.73,190.64 176.71,190.48 177.70,190.36 178.68,190.29 179.66,190.27 180.64,190.29 181.63,190.35 182.61,190.45 183.59,190.58 184.58,190.73 185.56,190.90 186.54,191.10 187.52,191.32 188.51,191.57 189.49,191.86 190.47,192.19 191.45,192.53 192.44,192.86 193.42,193.14 194.40,193.35 195.38,193.45 196.37,193.44 197.35,193.31 198.33,193.10 199.31,192.84 200.30,192.55 201.28,192.27 202.26,192.04 203.24,191.93 204.23,192.01 205.21,192.39 206.19,193.20 207.17,194.51 208.16,196.29 209.14,198.37 210.12,200.49 211.10,202.32 212.09,203.62 213.07,204.34 214.05,204.72 215.03,205.20 216.02,206.46 217.00,209.20 217.98,214.03 218.96,221.30 219.95,230.93 220.93,242.42 221.91,254.85 222.89,267.12 223.88,278.15 224.86,287.17 225.84,293.78 226.82,297.99 227.81,300.10 228.79,300.58 229.77,299.96 230.76,298.74 231.74,297.35 232.72,296.15 233.70,295.40 234.69,295.21 235.67,295.63 236.65,296.56 237.63,297.90 238.62,299.47 239.60,301.14 240.58,302.77 241.56,304.29 242.55,305.65 243.53,306.84 244.51,307.86 245.49,308.74 246.48,309.51 247.46,310.17 248.44,310.76 249.42,311.29 250.41,311.74 251.39,312.14 252.37,312.45 253.35,312.68 254.34,312.79" fill="none" stroke="#ff7f0e" stroke-width="1.75" stroke-dasharray="1.75 2.47" stroke-linecap="butt"/>
</g>
<rect x="152.2" y="184.1" width="107" height="134.8" fill="none" stroke="#000" stroke-width="0.63"/>
<g class="tk"><line x1="156.08" y1="318.90" x2="156.08" y2="321.95" stroke="#000" stroke-width="0.63"/><text x="156.08" y="331.61" text-anchor="middle" textLength="5.53" lengthAdjust="spacingAndGlyphs">0</text><line x1="205.21" y1="318.90" x2="205.21" y2="321.95" stroke="#000" stroke-width="0.63"/><text x="205.21" y="331.61" text-anchor="middle" textLength="11.07" lengthAdjust="spacingAndGlyphs">50</text><line x1="254.34" y1="318.90" x2="254.34" y2="321.95" stroke="#000" stroke-width="0.63"/><text x="254.34" y="331.61" text-anchor="middle" textLength="16.60" lengthAdjust="spacingAndGlyphs">100</text><line x1="152.20" y1="317.30" x2="149.15" y2="317.30" stroke="#000" stroke-width="0.63"/><text x="146.70" y="321.05" text-anchor="end" textLength="5.53" lengthAdjust="spacingAndGlyphs">1</text><line x1="152.20" y1="281.02" x2="149.15" y2="281.02" stroke="#000" stroke-width="0.63"/><text x="146.70" y="284.77" text-anchor="end" textLength="5.53" lengthAdjust="spacingAndGlyphs">2</text><line x1="152.20" y1="244.73" x2="149.15" y2="244.73" stroke="#000" stroke-width="0.63"/><text x="146.70" y="248.48" text-anchor="end" textLength="5.53" lengthAdjust="spacingAndGlyphs">3</text><line x1="152.20" y1="208.45" x2="149.15" y2="208.45" stroke="#000" stroke-width="0.63"/><text x="146.70" y="212.20" text-anchor="end" textLength="5.53" lengthAdjust="spacingAndGlyphs">4</text></g>
<text class="ti" x="205.70" y="179.60" text-anchor="middle" textLength="54.28" lengthAdjust="spacingAndGlyphs">val/cls_loss</text>
<g clip-path="url(#c7)">
<polyline points="297.56,203.93 298.55,203.85 299.53,203.77 300.51,203.69 301.49,203.61 302.48,203.53 303.46,203.42 304.44,203.24 305.42,203.06 306.41,202.88 307.39,202.70 308.37,202.51 309.35,202.29 310.34,202.06 311.32,201.84 312.30,201.58 313.28,201.01 314.27,200.43 315.25,199.86 316.23,199.29 317.21,198.71 318.20,198.14 319.18,197.57 320.16,196.98 321.14,196.31 322.13,195.64 323.11,194.97 324.09,194.30 325.08,193.74 326.06,193.18 327.04,192.62 328.02,192.06 329.01,191.70 329.99,191.35 330.97,191.01 331.95,190.67 332.94,190.63 333.92,190.63 334.90,191.18 335.88,191.79 336.87,192.41 337.85,192.60 338.83,192.75 339.81,192.90 340.80,192.80 341.78,192.65 342.76,192.50 343.74,192.71 344.73,193.02 345.71,193.32 346.69,194.00 347.67,194.76 348.66,195.87 349.64,197.51 350.92,203.47 351.31,230.52 352.59,231.90 353.67,233.27 356.03,225.02 357.70,215.85 358.97,225.48 360.94,226.40 361.63,247.49 363.39,269.04 365.16,297.47 366.34,298.84 367.42,299.76 368.60,298.38 369.68,296.09 370.86,291.05 372.04,289.67 373.12,289.21 374.50,290.13 375.97,291.05 377.15,293.80 378.33,297.01 378.92,302.97 380.59,305.26 381.18,307.56 382.85,309.85 384.03,309.85 385.21,309.85 386.29,309.85 387.47,309.85 388.65,309.85 389.83,309.85 390.91,310.31 391.99,310.76 393.36,312.14 394.84,313.52" fill="none" stroke="#1f77b4" stroke-width="1.59" stroke-linejoin="round" stroke-linecap="butt"/>
<g fill="#1f77b4"><circle cx="297.56" cy="203.93" r="1.85"/><circle cx="298.55" cy="203.85" r="1.85"/><circle cx="299.53" cy="203.77" r="1.85"/><circle cx="300.51" cy="203.69" r="1.85"/><circle cx="301.49" cy="203.61" r="1.85"/><circle cx="302.48" cy="203.53" r="1.85"/><circle cx="303.46" cy="203.42" r="1.85"/><circle cx="304.44" cy="203.24" r="1.85"/><circle cx="305.42" cy="203.06" r="1.85"/><circle cx="306.41" cy="202.88" r="1.85"/><circle cx="307.39" cy="202.70" r="1.85"/><circle cx="308.37" cy="202.51" r="1.85"/><circle cx="309.35" cy="202.29" r="1.85"/><circle cx="310.34" cy="202.06" r="1.85"/><circle cx="311.32" cy="201.84" r="1.85"/><circle cx="312.30" cy="201.58" r="1.85"/><circle cx="313.28" cy="201.01" r="1.85"/><circle cx="314.27" cy="200.43" r="1.85"/><circle cx="315.25" cy="199.86" r="1.85"/><circle cx="316.23" cy="199.29" r="1.85"/><circle cx="317.21" cy="198.71" r="1.85"/><circle cx="318.20" cy="198.14" r="1.85"/><circle cx="319.18" cy="197.57" r="1.85"/><circle cx="320.16" cy="196.98" r="1.85"/><circle cx="321.14" cy="196.31" r="1.85"/><circle cx="322.13" cy="195.64" r="1.85"/><circle cx="323.11" cy="194.97" r="1.85"/><circle cx="324.09" cy="194.30" r="1.85"/><circle cx="325.08" cy="193.74" r="1.85"/><circle cx="326.06" cy="193.18" r="1.85"/><circle cx="327.04" cy="192.62" r="1.85"/><circle cx="328.02" cy="192.06" r="1.85"/><circle cx="329.01" cy="191.70" r="1.85"/><circle cx="329.99" cy="191.35" r="1.85"/><circle cx="330.97" cy="191.01" r="1.85"/><circle cx="331.95" cy="190.67" r="1.85"/><circle cx="332.94" cy="190.63" r="1.85"/><circle cx="333.92" cy="190.63" r="1.85"/><circle cx="334.90" cy="191.18" r="1.85"/><circle cx="335.88" cy="191.79" r="1.85"/><circle cx="336.87" cy="192.41" r="1.85"/><circle cx="337.85" cy="192.60" r="1.85"/><circle cx="338.83" cy="192.75" r="1.85"/><circle cx="339.81" cy="192.90" r="1.85"/><circle cx="340.80" cy="192.80" r="1.85"/><circle cx="341.78" cy="192.65" r="1.85"/><circle cx="342.76" cy="192.50" r="1.85"/><circle cx="343.74" cy="192.71" r="1.85"/><circle cx="344.73" cy="193.02" r="1.85"/><circle cx="345.71" cy="193.32" r="1.85"/><circle cx="346.69" cy="194.00" r="1.85"/><circle cx="347.67" cy="194.76" r="1.85"/><circle cx="348.66" cy="195.87" r="1.85"/><circle cx="349.64" cy="197.51" r="1.85"/><circle cx="350.92" cy="203.47" r="1.85"/><circle cx="351.31" cy="230.52" r="1.85"/><circle cx="352.59" cy="231.90" r="1.85"/><circle cx="353.67" cy="233.27" r="1.85"/><circle cx="356.03" cy="225.02" r="1.85"/><circle cx="357.70" cy="215.85" r="1.85"/><circle cx="358.97" cy="225.48" r="1.85"/><circle cx="360.94" cy="226.40" r="1.85"/><circle cx="361.63" cy="247.49" r="1.85"/><circle cx="363.39" cy="269.04" r="1.85"/><circle cx="365.16" cy="297.47" r="1.85"/><circle cx="366.34" cy="298.84" r="1.85"/><circle cx="367.42" cy="299.76" r="1.85"/><circle cx="368.60" cy="298.38" r="1.85"/><circle cx="369.68" cy="296.09" r="1.85"/><circle cx="370.86" cy="291.05" r="1.85"/><circle cx="372.04" cy="289.67" r="1.85"/><circle cx="373.12" cy="289.21" r="1.85"/><circle cx="374.50" cy="290.13" r="1.85"/><circle cx="375.97" cy="291.05" r="1.85"/><circle cx="377.15" cy="293.80" r="1.85"/><circle cx="378.33" cy="297.01" r="1.85"/><circle cx="378.92" cy="302.97" r="1.85"/><circle cx="380.59" cy="305.26" r="1.85"/><circle cx="381.18" cy="307.56" r="1.85"/><circle cx="382.85" cy="309.85" r="1.85"/><circle cx="384.03" cy="309.85" r="1.85"/><circle cx="385.21" cy="309.85" r="1.85"/><circle cx="386.29" cy="309.85" r="1.85"/><circle cx="387.47" cy="309.85" r="1.85"/><circle cx="388.65" cy="309.85" r="1.85"/><circle cx="389.83" cy="309.85" r="1.85"/><circle cx="390.91" cy="310.31" r="1.85"/><circle cx="391.99" cy="310.76" r="1.85"/><circle cx="393.36" cy="312.14" r="1.85"/><circle cx="394.84" cy="313.52" r="1.85"/></g>
<polyline points="297.56,203.77 298.55,203.74 299.53,203.70 300.51,203.63 301.49,203.54 302.48,203.43 303.46,203.31 304.44,203.16 305.42,203.00 306.41,202.83 307.39,202.63 308.37,202.41 309.35,202.16 310.34,201.88 311.32,201.55 312.30,201.18 313.28,200.75 314.27,200.28 315.25,199.77 316.23,199.23 317.21,198.67 318.20,198.09 319.18,197.49 320.16,196.89 321.14,196.27 322.13,195.66 323.11,195.05 324.09,194.45 325.08,193.87 326.06,193.33 327.04,192.83 328.02,192.38 329.01,191.99 329.99,191.67 330.97,191.45 331.95,191.32 332.94,191.30 333.92,191.39 334.90,191.55 335.88,191.77 336.87,192.00 337.85,192.23 338.83,192.42 339.81,192.57 340.80,192.72 341.78,192.88 342.76,193.11 343.74,193.51 344.73,194.18 345.71,195.28 346.69,197.01 347.67,199.52 348.66,202.89 349.64,207.00 350.62,211.50 351.60,215.90 352.59,219.68 353.57,222.49 354.55,224.31 355.53,225.44 356.52,226.47 357.50,228.09 358.48,230.90 359.46,235.33 360.45,241.48 361.43,249.12 362.41,257.72 363.39,266.56 364.38,274.84 365.36,281.89 366.34,287.28 367.32,290.87 368.31,292.83 369.29,293.52 370.27,293.38 371.26,292.88 372.24,292.39 373.22,292.19 374.20,292.47 375.19,293.28 376.17,294.61 377.15,296.40 378.13,298.48 379.12,300.70 380.10,302.85 381.08,304.79 382.06,306.39 383.05,307.64 384.03,308.53 385.01,309.13 385.99,309.53 386.98,309.80 387.96,310.01 388.94,310.24 389.92,310.51 390.91,310.83 391.89,311.17 392.87,311.51 393.85,311.78 394.84,311.93" fill="none" stroke="#ff7f0e" stroke-width="1.75" stroke-dasharray="1.75 2.47" stroke-linecap="butt"/>
</g>
<rect x="292.7" y="184.1" width="107" height="134.8" fill="none" stroke="#000" stroke-width="0.63"/>
<g class="tk"><line x1="296.58" y1="318.90" x2="296.58" y2="321.95" stroke="#000" stroke-width="0.63"/><text x="296.58" y="331.61" text-anchor="middle" textLength="5.53" lengthAdjust="spacingAndGlyphs">0</text><line x1="345.71" y1="318.90" x2="345.71" y2="321.95" stroke="#000" stroke-width="0.63"/><text x="345.71" y="331.61" text-anchor="middle" textLength="11.07" lengthAdjust="spacingAndGlyphs">50</text><line x1="394.84" y1="318.90" x2="394.84" y2="321.95" stroke="#000" stroke-width="0.63"/><text x="394.84" y="331.61" text-anchor="middle" textLength="16.60" lengthAdjust="spacingAndGlyphs">100</text><line x1="292.70" y1="302.97" x2="289.65" y2="302.97" stroke="#000" stroke-width="0.63"/><text x="287.20" y="306.72" text-anchor="end" textLength="13.83" lengthAdjust="spacingAndGlyphs">2.0</text><line x1="292.70" y1="280.04" x2="289.65" y2="280.04" stroke="#000" stroke-width="0.63"/><text x="287.20" y="283.79" text-anchor="end" textLength="13.83" lengthAdjust="spacingAndGlyphs">2.5</text><line x1="292.70" y1="257.12" x2="289.65" y2="257.12" stroke="#000" stroke-width="0.63"/><text x="287.20" y="260.87" text-anchor="end" textLength="13.83" lengthAdjust="spacingAndGlyphs">3.0</text><line x1="292.70" y1="234.19" x2="289.65" y2="234.19" stroke="#000" stroke-width="0.63"/><text x="287.20" y="237.94" text-anchor="end" textLength="13.83" lengthAdjust="spacingAndGlyphs">3.5</text><line x1="292.70" y1="211.27" x2="289.65" y2="211.27" stroke="#000" stroke-width="0.63"/><text x="287.20" y="215.02" text-anchor="end" textLength="13.83" lengthAdjust="spacingAndGlyphs">4.0</text><line x1="292.70" y1="188.34" x2="289.65" y2="188.34" stroke="#000" stroke-width="0.63"/><text x="287.20" y="192.09" text-anchor="end" textLength="13.83" lengthAdjust="spacingAndGlyphs">4.5</text></g>
<text class="ti" x="346.20" y="179.60" text-anchor="middle" textLength="53.46" lengthAdjust="spacingAndGlyphs">val/dfl_loss</text>
<g clip-path="url(#c8)">
<polyline points="438.46,312.70 439.45,312.70 440.43,312.70 441.41,312.70 442.39,312.70 443.38,312.70 444.36,312.70 445.34,312.70 446.32,312.70 447.31,312.70 448.29,312.70 449.27,312.70 450.25,312.70 451.24,312.70 452.22,312.70 453.20,312.70 454.18,312.70 455.17,312.70 456.15,312.70 457.13,312.70 458.11,312.70 459.10,312.70 460.08,312.70 461.06,312.70 462.04,312.70 463.03,312.70 464.01,312.70 464.99,312.70 465.98,312.70 466.96,312.70 467.94,312.70 468.92,312.70 469.91,312.70 470.89,312.70 471.87,312.70 472.85,312.70 473.84,312.70 474.82,312.70 475.80,312.70 476.78,312.70 477.77,312.70 478.75,312.70 479.73,312.70 480.71,312.70 481.70,312.70 482.68,312.70 483.66,312.70 484.64,312.70 485.63,312.70 486.61,312.70 487.59,312.70 488.57,312.70 489.56,312.70 490.54,312.70 491.52,312.70 492.50,304.87 493.49,304.87 494.47,304.87 495.45,304.87 496.43,304.87 497.42,312.70 498.40,312.70 499.38,312.70 500.36,312.70 501.35,312.70 502.33,304.87 503.31,291.48 504.29,291.23 505.28,257.76 506.26,190.95 507.24,195.87 508.22,196.50 509.21,196.50 510.19,196.76 511.17,196.88 512.16,197.77 513.14,198.40 514.12,199.03 515.10,199.28 516.09,199.54 517.07,199.66 518.05,200.29 519.03,200.67 520.02,200.92 521.00,200.29 521.98,199.03 522.96,197.77 523.95,196.50 524.93,196.25 525.91,195.87 526.89,195.75 527.88,195.62 528.86,195.49 529.84,195.24 530.82,194.86 531.81,194.36 532.79,193.35 533.77,191.96 534.75,190.82 535.74,190.19" fill="none" stroke="#1f77b4" stroke-width="1.59" stroke-linejoin="round" stroke-linecap="butt"/>
<g fill="#1f77b4"><circle cx="438.46" cy="312.70" r="1.85"/><circle cx="439.45" cy="312.70" r="1.85"/><circle cx="440.43" cy="312.70" r="1.85"/><circle cx="441.41" cy="312.70" r="1.85"/><circle cx="442.39" cy="312.70" r="1.85"/><circle cx="443.38" cy="312.70" r="1.85"/><circle cx="444.36" cy="312.70" r="1.85"/><circle cx="445.34" cy="312.70" r="1.85"/><circle cx="446.32" cy="312.70" r="1.85"/><circle cx="447.31" cy="312.70" r="1.85"/><circle cx="448.29" cy="312.70" r="1.85"/><circle cx="449.27" cy="312.70" r="1.85"/><circle cx="450.25" cy="312.70" r="1.85"/><circle cx="451.24" cy="312.70" r="1.85"/><circle cx="452.22" cy="312.70" r="1.85"/><circle cx="453.20" cy="312.70" r="1.85"/><circle cx="454.18" cy="312.70" r="1.85"/><circle cx="455.17" cy="312.70" r="1.85"/><circle cx="456.15" cy="312.70" r="1.85"/><circle cx="457.13" cy="312.70" r="1.85"/><circle cx="458.11" cy="312.70" r="1.85"/><circle cx="459.10" cy="312.70" r="1.85"/><circle cx="460.08" cy="312.70" r="1.85"/><circle cx="461.06" cy="312.70" r="1.85"/><circle cx="462.04" cy="312.70" r="1.85"/><circle cx="463.03" cy="312.70" r="1.85"/><circle cx="464.01" cy="312.70" r="1.85"/><circle cx="464.99" cy="312.70" r="1.85"/><circle cx="465.98" cy="312.70" r="1.85"/><circle cx="466.96" cy="312.70" r="1.85"/><circle cx="467.94" cy="312.70" r="1.85"/><circle cx="468.92" cy="312.70" r="1.85"/><circle cx="469.91" cy="312.70" r="1.85"/><circle cx="470.89" cy="312.70" r="1.85"/><circle cx="471.87" cy="312.70" r="1.85"/><circle cx="472.85" cy="312.70" r="1.85"/><circle cx="473.84" cy="312.70" r="1.85"/><circle cx="474.82" cy="312.70" r="1.85"/><circle cx="475.80" cy="312.70" r="1.85"/><circle cx="476.78" cy="312.70" r="1.85"/><circle cx="477.77" cy="312.70" r="1.85"/><circle cx="478.75" cy="312.70" r="1.85"/><circle cx="479.73" cy="312.70" r="1.85"/><circle cx="480.71" cy="312.70" r="1.85"/><circle cx="481.70" cy="312.70" r="1.85"/><circle cx="482.68" cy="312.70" r="1.85"/><circle cx="483.66" cy="312.70" r="1.85"/><circle cx="484.64" cy="312.70" r="1.85"/><circle cx="485.63" cy="312.70" r="1.85"/><circle cx="486.61" cy="312.70" r="1.85"/><circle cx="487.59" cy="312.70" r="1.85"/><circle cx="488.57" cy="312.70" r="1.85"/><circle cx="489.56" cy="312.70" r="1.85"/><circle cx="490.54" cy="312.70" r="1.85"/><circle cx="491.52" cy="312.70" r="1.85"/><circle cx="492.50" cy="304.87" r="1.85"/><circle cx="493.49" cy="304.87" r="1.85"/><circle cx="494.47" cy="304.87" r="1.85"/><circle cx="495.45" cy="304.87" r="1.85"/><circle cx="496.43" cy="304.87" r="1.85"/><circle cx="497.42" cy="312.70" r="1.85"/><circle cx="498.40" cy="312.70" r="1.85"/><circle cx="499.38" cy="312.70" r="1.85"/><circle cx="500.36" cy="312.70" r="1.85"/><circle cx="501.35" cy="312.70" r="1.85"/><circle cx="502.33" cy="304.87" r="1.85"/><circle cx="503.31" cy="291.48" r="1.85"/><circle cx="504.29" cy="291.23" r="1.85"/><circle cx="505.28" cy="257.76" r="1.85"/><circle cx="506.26" cy="190.95" r="1.85"/><circle cx="507.24" cy="195.87" r="1.85"/><circle cx="508.22" cy="196.50" r="1.85"/><circle cx="509.21" cy="196.50" r="1.85"/><circle cx="510.19" cy="196.76" r="1.85"/><circle cx="511.17" cy="196.88" r="1.85"/><circle cx="512.16" cy="197.77" r="1.85"/><circle cx="513.14" cy="198.40" r="1.85"/><circle cx="514.12" cy="199.03" r="1.85"/><circle cx="515.10" cy="199.28" r="1.85"/><circle cx="516.09" cy="199.54" r="1.85"/><circle cx="517.07" cy="199.66" r="1.85"/><circle cx="518.05" cy="200.29" r="1.85"/><circle cx="519.03" cy="200.67" r="1.85"/><circle cx="520.02" cy="200.92" r="1.85"/><circle cx="521.00" cy="200.29" r="1.85"/><circle cx="521.98" cy="199.03" r="1.85"/><circle cx="522.96" cy="197.77" r="1.85"/><circle cx="523.95" cy="196.50" r="1.85"/><circle cx="524.93" cy="196.25" r="1.85"/><circle cx="525.91" cy="195.87" r="1.85"/><circle cx="526.89" cy="195.75" r="1.85"/><circle cx="527.88" cy="195.62" r="1.85"/><circle cx="528.86" cy="195.49" r="1.85"/><circle cx="529.84" cy="195.24" r="1.85"/><circle cx="530.82" cy="194.86" r="1.85"/><circle cx="531.81" cy="194.36" r="1.85"/><circle cx="532.79" cy="193.35" r="1.85"/><circle cx="533.77" cy="191.96" r="1.85"/><circle cx="534.75" cy="190.82" r="1.85"/><circle cx="535.74" cy="190.19" r="1.85"/></g>
<polyline points="438.46,312.70 439.45,312.70 440.43,312.70 441.41,312.70 442.39,312.70 443.38,312.70 444.36,312.70 445.34,312.70 446.32,312.70 447.31,312.70 448.29,312.70 449.27,312.70 450.25,312.70 451.24,312.70 452.22,312.70 453.20,312.70 454.18,312.70 455.17,312.70 456.15,312.70 457.13,312.70 458.11,312.70 459.10,312.70 460.08,312.70 461.06,312.70 462.04,312.70 463.03,312.70 464.01,312.70 464.99,312.70 465.98,312.70 466.96,312.70 467.94,312.70 468.92,312.70 469.91,312.70 470.89,312.70 471.87,312.70 472.85,312.70 473.84,312.70 474.82,312.70 475.80,312.70 476.78,312.70 477.77,312.70 478.75,312.70 479.73,312.70 480.71,312.70 481.70,312.70 482.68,312.69 483.66,312.68 484.64,312.65 485.63,312.58 486.61,312.45 487.59,312.19 488.57,311.77 489.56,311.17 490.54,310.41 491.52,309.56 492.50,308.77 493.49,308.19 494.47,307.93 495.45,307.99 496.43,308.20 497.42,308.26 498.40,307.69 499.38,305.92 500.36,302.32 501.35,296.36 502.33,287.69 503.31,276.37 504.29,263.00 505.28,248.69 506.26,234.80 507.24,222.63 508.22,213.04 509.21,206.29 510.19,202.09 511.17,199.83 512.16,198.87 513.14,198.65 514.12,198.79 515.10,199.06 516.09,199.33 517.07,199.55 518.05,199.65 519.03,199.62 520.02,199.41 521.00,199.06 521.98,198.57 522.96,198.01 523.95,197.44 524.93,196.89 525.91,196.40 526.89,195.97 527.88,195.56 528.86,195.16 529.84,194.71 530.82,194.21 531.81,193.66 532.79,193.09 533.77,192.57 534.75,192.17 535.74,191.95" fill="none" stroke="#ff7f0e" stroke-width="1.75" stroke-dasharray="1.75 2.47" stroke-linecap="butt"/>
</g>
<rect x="433.6" y="184.1" width="107" height="134.8" fill="none" stroke="#000" stroke-width="0.63"/>
<g class="tk"><line x1="437.48" y1="318.90" x2="437.48" y2="321.95" stroke="#000" stroke-width="0.63"/><text x="437.48" y="331.61" text-anchor="middle" textLength="5.53" lengthAdjust="spacingAndGlyphs">0</text><line x1="486.61" y1="318.90" x2="486.61" y2="321.95" stroke="#000" stroke-width="0.63"/><text x="486.61" y="331.61" text-anchor="middle" textLength="11.07" lengthAdjust="spacingAndGlyphs">50</text><line x1="535.74" y1="318.90" x2="535.74" y2="321.95" stroke="#000" stroke-width="0.63"/><text x="535.74" y="331.61" text-anchor="middle" textLength="16.60" lengthAdjust="spacingAndGlyphs">100</text><line x1="433.60" y1="312.70" x2="430.55" y2="312.70" stroke="#000" stroke-width="0.63"/><text x="428.10" y="316.45" text-anchor="end" textLength="13.83" lengthAdjust="spacingAndGlyphs">0.0</text><line x1="433.60" y1="287.46" x2="430.55" y2="287.46" stroke="#000" stroke-width="0.63"/><text x="428.10" y="291.21" text-anchor="end" textLength="13.83" lengthAdjust="spacingAndGlyphs">0.2</text><line x1="433.60" y1="262.22" x2="430.55" y2="262.22" stroke="#000" stroke-width="0.63"/><text x="428.10" y="265.97" text-anchor="end" textLength="13.83" lengthAdjust="spacingAndGlyphs">0.4</text><line x1="433.60" y1="236.98" x2="430.55" y2="236.98" stroke="#000" stroke-width="0.63"/><text x="428.10" y="240.73" text-anchor="end" textLength="13.83" lengthAdjust="spacingAndGlyphs">0.6</text><line x1="433.60" y1="211.74" x2="430.55" y2="211.74" stroke="#000" stroke-width="0.63"/><text x="428.10" y="215.49" text-anchor="end" textLength="13.83" lengthAdjust="spacingAndGlyphs">0.8</text><line x1="433.60" y1="186.50" x2="430.55" y2="186.50" stroke="#000" stroke-width="0.63"/><text x="428.10" y="190.25" text-anchor="end" textLength="13.83" lengthAdjust="spacingAndGlyphs">1.0</text></g>
<text class="ti" x="487.10" y="179.60" text-anchor="middle" textLength="87.96" lengthAdjust="spacingAndGlyphs">metrics/mAP50(B)</text>
<g clip-path="url(#c9)">
<polyline points="579.36,312.70 580.35,312.70 581.33,312.70 582.31,312.70 583.29,312.70 584.28,312.70 585.26,312.70 586.24,312.70 587.22,312.70 588.21,312.70 589.19,312.70 590.17,312.70 591.15,312.70 592.14,312.70 593.12,312.70 594.10,312.70 595.08,312.70 596.07,312.70 597.05,312.70 598.03,312.70 599.01,312.70 600.00,312.70 600.98,312.70 601.96,312.70 602.94,312.70 603.93,312.70 604.91,312.70 605.89,312.70 606.88,312.70 607.86,312.70 608.84,312.70 609.82,312.70 610.81,312.70 611.79,312.70 612.77,312.70 613.75,312.70 614.74,312.70 615.72,312.70 616.70,312.70 617.68,312.70 618.67,312.70 619.65,312.70 620.63,312.70 621.61,312.70 622.60,312.70 623.58,312.70 624.56,312.70 625.54,312.70 626.53,312.70 627.51,312.70 628.49,312.70 629.47,312.70 630.46,312.70 631.44,312.70 632.42,312.70 633.40,309.33 634.39,309.33 635.37,309.33 636.35,309.33 637.33,312.30 638.32,312.30 639.30,312.11 640.28,312.11 641.26,310.72 642.25,310.72 643.23,304.18 644.21,304.18 645.19,290.90 646.18,290.90 647.16,221.13 648.14,221.13 649.12,213.01 650.11,213.01 651.09,226.28 652.07,226.28 653.06,244.52 654.04,244.52 655.02,253.83 656.00,253.83 656.99,252.25 657.97,252.25 658.95,228.66 659.93,228.66 660.92,201.71 661.90,201.71 662.88,192.00 663.86,192.00 664.85,190.41 665.83,190.41 666.81,196.55 667.79,196.55 668.78,197.35 669.76,197.35 670.74,201.11 671.72,201.11 672.71,201.11 673.69,201.11 674.67,195.37 675.65,195.37 676.64,191.40" fill="none" stroke="#1f77b4" stroke-width="1.59" stroke-linejoin="round" stroke-linecap="butt"/>
<g fill="#1f77b4"><circle cx="579.36" cy="312.70" r="1.85"/><circle cx="580.35" cy="312.70" r="1.85"/><circle cx="581.33" cy="312.70" r="1.85"/><circle cx="582.31" cy="312.70" r="1.85"/><circle cx="583.29" cy="312.70" r="1.85"/><circle cx="584.28" cy="312.70" r="1.85"/><circle cx="585.26" cy="312.70" r="1.85"/><circle cx="586.24" cy="312.70" r="1.85"/><circle cx="587.22" cy="312.70" r="1.85"/><circle cx="588.21" cy="312.70" r="1.85"/><circle cx="589.19" cy="312.70" r="1.85"/><circle cx="590.17" cy="312.70" r="1.85"/><circle cx="591.15" cy="312.70" r="1.85"/><circle cx="592.14" cy="312.70" r="1.85"/><circle cx="593.12" cy="312.70" r="1.85"/><circle cx="594.10" cy="312.70" r="1.85"/><circle cx="595.08" cy="312.70" r="1.85"/><circle cx="596.07" cy="312.70" r="1.85"/><circle cx="597.05" cy="312.70" r="1.85"/><circle cx="598.03" cy="312.70" r="1.85"/><circle cx="599.01" cy="312.70" r="1.85"/><circle cx="600.00" cy="312.70" r="1.85"/><circle cx="600.98" cy="312.70" r="1.85"/><circle cx="601.96" cy="312.70" r="1.85"/><circle cx="602.94" cy="312.70" r="1.85"/><circle cx="603.93" cy="312.70" r="1.85"/><circle cx="604.91" cy="312.70" r="1.85"/><circle cx="605.89" cy="312.70" r="1.85"/><circle cx="606.88" cy="312.70" r="1.85"/><circle cx="607.86" cy="312.70" r="1.85"/><circle cx="608.84" cy="312.70" r="1.85"/><circle cx="609.82" cy="312.70" r="1.85"/><circle cx="610.81" cy="312.70" r="1.85"/><circle cx="611.79" cy="312.70" r="1.85"/><circle cx="612.77" cy="312.70" r="1.85"/><circle cx="613.75" cy="312.70" r="1.85"/><circle cx="614.74" cy="312.70" r="1.85"/><circle cx="615.72" cy="312.70" r="1.85"/><circle cx="616.70" cy="312.70" r="1.85"/><circle cx="617.68" cy="312.70" r="1.85"/><circle cx="618.67" cy="312.70" r="1.85"/><circle cx="619.65" cy="312.70" r="1.85"/><circle cx="620.63" cy="312.70" r="1.85"/><circle cx="621.61" cy="312.70" r="1.85"/><circle cx="622.60" cy="312.70" r="1.85"/><circle cx="623.58" cy="312.70" r="1.85"/><circle cx="624.56" cy="312.70" r="1.85"/><circle cx="625.54" cy="312.70" r="1.85"/><circle cx="626.53" cy="312.70" r="1.85"/><circle cx="627.51" cy="312.70" r="1.85"/><circle cx="628.49" cy="312.70" r="1.85"/><circle cx="629.47" cy="312.70" r="1.85"/><circle cx="630.46" cy="312.70" r="1.85"/><circle cx="631.44" cy="312.70" r="1.85"/><circle cx="632.42" cy="312.70" r="1.85"/><circle cx="633.40" cy="309.33" r="1.85"/><circle cx="634.39" cy="309.33" r="1.85"/><circle cx="635.37" cy="309.33" r="1.85"/><circle cx="636.35" cy="309.33" r="1.85"/><circle cx="637.33" cy="312.30" r="1.85"/><circle cx="638.32" cy="312.30" r="1.85"/><circle cx="639.30" cy="312.11" r="1.85"/><circle cx="640.28" cy="312.11" r="1.85"/><circle cx="641.26" cy="310.72" r="1.85"/><circle cx="642.25" cy="310.72" r="1.85"/><circle cx="643.23" cy="304.18" r="1.85"/><circle cx="644.21" cy="304.18" r="1.85"/><circle cx="645.19" cy="290.90" r="1.85"/><circle cx="646.18" cy="290.90" r="1.85"/><circle cx="647.16" cy="221.13" r="1.85"/><circle cx="648.14" cy="221.13" r="1.85"/><circle cx="649.12" cy="213.01" r="1.85"/><circle cx="650.11" cy="213.01" r="1.85"/><circle cx="651.09" cy="226.28" r="1.85"/><circle cx="652.07" cy="226.28" r="1.85"/><circle cx="653.06" cy="244.52" r="1.85"/><circle cx="654.04" cy="244.52" r="1.85"/><circle cx="655.02" cy="253.83" r="1.85"/><circle cx="656.00" cy="253.83" r="1.85"/><circle cx="656.99" cy="252.25" r="1.85"/><circle cx="657.97" cy="252.25" r="1.85"/><circle cx="658.95" cy="228.66" r="1.85"/><circle cx="659.93" cy="228.66" r="1.85"/><circle cx="660.92" cy="201.71" r="1.85"/><circle cx="661.90" cy="201.71" r="1.85"/><circle cx="662.88" cy="192.00" r="1.85"/><circle cx="663.86" cy="192.00" r="1.85"/><circle cx="664.85" cy="190.41" r="1.85"/><circle cx="665.83" cy="190.41" r="1.85"/><circle cx="666.81" cy="196.55" r="1.85"/><circle cx="667.79" cy="196.55" r="1.85"/><circle cx="668.78" cy="197.35" r="1.85"/><circle cx="669.76" cy="197.35" r="1.85"/><circle cx="670.74" cy="201.11" r="1.85"/><circle cx="671.72" cy="201.11" r="1.85"/><circle cx="672.71" cy="201.11" r="1.85"/><circle cx="673.69" cy="201.11" r="1.85"/><circle cx="674.67" cy="195.37" r="1.85"/><circle cx="675.65" cy="195.37" r="1.85"/><circle cx="676.64" cy="191.40" r="1.85"/></g>
<polyline points="579.36,312.70 580.35,312.70 581.33,312.70 582.31,312.70 583.29,312.70 584.28,312.70 585.26,312.70 586.24,312.70 587.22,312.70 588.21,312.70 589.19,312.70 590.17,312.70 591.15,312.70 592.14,312.70 593.12,312.70 594.10,312.70 595.08,312.70 596.07,312.70 597.05,312.70 598.03,312.70 599.01,312.70 600.00,312.70 600.98,312.70 601.96,312.70 602.94,312.70 603.93,312.70 604.91,312.70 605.89,312.70 606.88,312.70 607.86,312.70 608.84,312.70 609.82,312.70 610.81,312.70 611.79,312.70 612.77,312.70 613.75,312.70 614.74,312.70 615.72,312.70 616.70,312.70 617.68,312.70 618.67,312.70 619.65,312.70 620.63,312.70 621.61,312.70 622.60,312.70 623.58,312.70 624.56,312.69 625.54,312.68 626.53,312.65 627.51,312.59 628.49,312.48 629.47,312.31 630.46,312.07 631.44,311.76 632.42,311.43 633.40,311.13 634.39,310.92 635.37,310.80 636.35,310.75 637.33,310.66 638.32,310.35 639.30,309.57 640.28,307.99 641.26,305.24 642.25,300.88 643.23,294.59 644.21,286.25 645.19,276.16 646.18,265.10 647.16,254.25 648.14,244.90 649.12,238.10 650.11,234.35 651.09,233.49 652.07,234.81 653.06,237.27 654.04,239.75 655.02,241.25 656.00,241.08 656.99,238.87 657.97,234.65 658.95,228.82 659.93,222.04 660.92,215.09 661.90,208.72 662.88,203.48 663.86,199.66 664.85,197.28 665.83,196.15 666.81,195.96 667.79,196.36 668.78,197.03 669.76,197.70 670.74,198.17 671.72,198.33 672.71,198.14 673.69,197.65 674.67,197.03 675.65,196.45 676.64,196.11" fill="none" stroke="#ff7f0e" stroke-width="1.75" stroke-dasharray="1.75 2.47" stroke-linecap="butt"/>
</g>
<rect x="574.5" y="184.1" width="107" height="134.8" fill="none" stroke="#000" stroke-width="0.63"/>
<g class="tk"><line x1="578.38" y1="318.90" x2="578.38" y2="321.95" stroke="#000" stroke-width="0.63"/><text x="578.38" y="331.61" text-anchor="middle" textLength="5.53" lengthAdjust="spacingAndGlyphs">0</text><line x1="627.51" y1="318.90" x2="627.51" y2="321.95" stroke="#000" stroke-width="0.63"/><text x="627.51" y="331.61" text-anchor="middle" textLength="11.07" lengthAdjust="spacingAndGlyphs">50</text><line x1="676.64" y1="318.90" x2="676.64" y2="321.95" stroke="#000" stroke-width="0.63"/><text x="676.64" y="331.61" text-anchor="middle" textLength="16.60" lengthAdjust="spacingAndGlyphs">100</text><line x1="574.50" y1="312.70" x2="571.45" y2="312.70" stroke="#000" stroke-width="0.63"/><text x="569.00" y="316.45" text-anchor="end" textLength="13.83" lengthAdjust="spacingAndGlyphs">0.0</text><line x1="574.50" y1="292.83" x2="571.45" y2="292.83" stroke="#000" stroke-width="0.63"/><text x="569.00" y="296.58" text-anchor="end" textLength="13.83" lengthAdjust="spacingAndGlyphs">0.1</text><line x1="574.50" y1="272.97" x2="571.45" y2="272.97" stroke="#000" stroke-width="0.63"/><text x="569.00" y="276.72" text-anchor="end" textLength="13.83" lengthAdjust="spacingAndGlyphs">0.2</text><line x1="574.50" y1="253.10" x2="571.45" y2="253.10" stroke="#000" stroke-width="0.63"/><text x="569.00" y="256.85" text-anchor="end" textLength="13.83" lengthAdjust="spacingAndGlyphs">0.3</text><line x1="574.50" y1="233.23" x2="571.45" y2="233.23" stroke="#000" stroke-width="0.63"/><text x="569.00" y="236.98" text-anchor="end" textLength="13.83" lengthAdjust="spacingAndGlyphs">0.4</text><line x1="574.50" y1="213.37" x2="571.45" y2="213.37" stroke="#000" stroke-width="0.63"/><text x="569.00" y="217.12" text-anchor="end" textLength="13.83" lengthAdjust="spacingAndGlyphs">0.5</text><line x1="574.50" y1="193.50" x2="571.45" y2="193.50" stroke="#000" stroke-width="0.63"/><text x="569.00" y="197.25" text-anchor="end" textLength="13.83" lengthAdjust="spacingAndGlyphs">0.6</text></g>
<text class="ti" x="628.00" y="179.60" text-anchor="middle" textLength="103.79" lengthAdjust="spacingAndGlyphs">metrics/mAP50-95(B)</text>
<rect x="189.3" y="17.1" width="65.30" height="29.20" rx="1.6" fill="#fff" fill-opacity="0.8" stroke="#cccccc" stroke-width="0.8"/>
<line x1="191.6" y1="24.6" x2="211.4" y2="24.6" stroke="#1f77b4" stroke-width="1.59"/>
<circle cx="201.5" cy="24.6" r="1.85" fill="#1f77b4"/>
<line x1="191.6" y1="37.7" x2="211.4" y2="37.7" stroke="#ff7f0e" stroke-width="1.75" stroke-dasharray="1.75 2.47"/>
<text class="lg" x="218" y="27.6" textLength="29.34" lengthAdjust="spacingAndGlyphs">results</text>
<text class="lg" x="218" y="40.7" textLength="32.58" lengthAdjust="spacingAndGlyphs">smooth</text>
</svg>
</body></html>
